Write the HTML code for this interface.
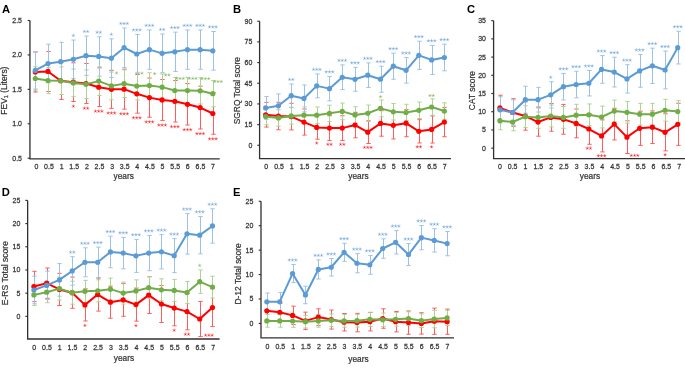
<!DOCTYPE html>
<html><head><meta charset="utf-8"><style>
html,body{margin:0;padding:0;background:#fff;}
body{width:685px;height:368px;overflow:hidden;}
svg{display:block;font-family:"Liberation Sans", sans-serif;will-change:transform;}
text.t{stroke:#333;stroke-width:0.22px;}
</style></head><body>
<svg width="685" height="368" viewBox="0 0 685 368">
<rect width="685" height="368" fill="#fff"/>
<text x="2.1" y="12.8" font-size="11.2" font-weight="bold" fill="#000">A</text>
<path d="M29.95 20.5V158.8H219.7" stroke="#303030" stroke-width="1.3" fill="none"/>
<path d="M27.65 158.2H29.95" stroke="#303030" stroke-width="1.15"/>
<text transform="translate(22,160.65) scale(1,1.14)" font-size="7.0" fill="#333333" class="t" text-anchor="end">0.5</text>
<path d="M27.65 123.77H29.95" stroke="#303030" stroke-width="1.15"/>
<text transform="translate(22,126.22) scale(1,1.14)" font-size="7.0" fill="#333333" class="t" text-anchor="end">1.0</text>
<path d="M27.65 89.35H29.95" stroke="#303030" stroke-width="1.15"/>
<text transform="translate(22,91.8) scale(1,1.14)" font-size="7.0" fill="#333333" class="t" text-anchor="end">1.5</text>
<path d="M27.65 54.92H29.95" stroke="#303030" stroke-width="1.15"/>
<text transform="translate(22,57.38) scale(1,1.14)" font-size="7.0" fill="#333333" class="t" text-anchor="end">2.0</text>
<path d="M27.65 20.5H29.95" stroke="#303030" stroke-width="1.15"/>
<text transform="translate(22,22.95) scale(1,1.14)" font-size="7.0" fill="#333333" class="t" text-anchor="end">2.5</text>
<text transform="translate(36.35,169.1) scale(1,1.14)" font-size="7.0" fill="#333333" class="t" text-anchor="middle">0</text>
<text transform="translate(48.97,169.1) scale(1,1.14)" font-size="7.0" fill="#333333" class="t" text-anchor="middle">0.5</text>
<text transform="translate(61.59,169.1) scale(1,1.14)" font-size="7.0" fill="#333333" class="t" text-anchor="middle">1</text>
<text transform="translate(74.21,169.1) scale(1,1.14)" font-size="7.0" fill="#333333" class="t" text-anchor="middle">1.5</text>
<text transform="translate(86.83,169.1) scale(1,1.14)" font-size="7.0" fill="#333333" class="t" text-anchor="middle">2</text>
<text transform="translate(99.45,169.1) scale(1,1.14)" font-size="7.0" fill="#333333" class="t" text-anchor="middle">2.5</text>
<text transform="translate(112.07,169.1) scale(1,1.14)" font-size="7.0" fill="#333333" class="t" text-anchor="middle">3</text>
<text transform="translate(124.69,169.1) scale(1,1.14)" font-size="7.0" fill="#333333" class="t" text-anchor="middle">3.5</text>
<text transform="translate(137.31,169.1) scale(1,1.14)" font-size="7.0" fill="#333333" class="t" text-anchor="middle">4</text>
<text transform="translate(149.93,169.1) scale(1,1.14)" font-size="7.0" fill="#333333" class="t" text-anchor="middle">4.5</text>
<text transform="translate(162.55,169.1) scale(1,1.14)" font-size="7.0" fill="#333333" class="t" text-anchor="middle">5</text>
<text transform="translate(175.17,169.1) scale(1,1.14)" font-size="7.0" fill="#333333" class="t" text-anchor="middle">5.5</text>
<text transform="translate(187.79,169.1) scale(1,1.14)" font-size="7.0" fill="#333333" class="t" text-anchor="middle">6</text>
<text transform="translate(200.41,169.1) scale(1,1.14)" font-size="7.0" fill="#333333" class="t" text-anchor="middle">6.5</text>
<text transform="translate(213.03,169.1) scale(1,1.14)" font-size="7.0" fill="#333333" class="t" text-anchor="middle">7</text>
<text x="123.7" y="179.25" font-size="8.3" fill="#333333" class="t" text-anchor="middle">years</text>
<text transform="translate(6.8,90.6) rotate(-90)" font-size="8.45" fill="#333333" class="t" text-anchor="middle">FEV<tspan font-size="5.5" dy="1.5">1</tspan><tspan dy="-1.5"> (Liters)</tspan></text>
<path d="M35.5 51.98V92.03M33.3 51.98H37.7M33.3 92.03H37.7M48.5 51.43V91.48M46.3 51.43H50.7M46.3 91.48H50.7M61.5 62.13V99.42M59.3 62.13H63.7M59.3 99.42H63.7M73.5 62.82V101.49M71.3 62.82H75.7M71.3 101.49H75.7M86.5 63.51V103.56M84.3 63.51H88.7M84.3 103.56H88.7M99.5 67.86V106.53M97.3 67.86H101.7M97.3 106.53H101.7M111.5 70.35V108.32M109.3 70.35H113.7M109.3 108.32H113.7M124.5 69.1V109.15M122.3 69.1H126.7M122.3 109.15H126.7M137.5 74.49V113.16M135.3 74.49H139.7M135.3 113.16H139.7M149.5 78.01V117.23M147.3 78.01H151.7M147.3 117.23H151.7M162.5 79.53V120.41M160.3 79.53H164.7M160.3 120.41H164.7M175.5 80.57V122M173.3 80.57H177.7M173.3 122H177.7M187.5 83.6V125.03M185.3 83.6H189.7M185.3 125.03H189.7M200.5 86.16V128.97M198.3 86.16H202.7M198.3 128.97H202.7M213.5 92.79V134.22M211.3 92.79H215.7M211.3 134.22H215.7" stroke="#FF5C5C" stroke-width="1" fill="none"/>
<path d="M35.5 66.76V90.23M33.3 66.76H37.7M33.3 90.23H37.7M48.5 67.38V93.62M46.3 67.38H50.7M46.3 93.62H50.7M61.5 66.89V94.51M59.3 66.89H63.7M59.3 94.51H63.7M73.5 69.1V96.72M71.3 69.1H75.7M71.3 96.72H75.7M86.5 69.93V98.52M84.3 69.93H88.7M84.3 98.52H88.7M99.5 66.83V95.41M97.3 66.83H101.7M97.3 95.41H101.7M111.5 72.07V99.69M109.3 72.07H113.7M109.3 99.69H113.7M124.5 69.86V97.48M122.3 69.86H126.7M122.3 97.48H126.7M137.5 72.28V99.9M135.3 72.28H139.7M135.3 99.9H139.7M149.5 72.76V98.31M147.3 72.76H151.7M147.3 98.31H151.7M162.5 74.01V100.25M160.3 74.01H164.7M160.3 100.25H164.7M175.5 77.46V103.7M173.3 77.46H177.7M173.3 103.7H177.7M187.5 77.46V103.7M185.3 77.46H189.7M185.3 103.7H189.7M200.5 77.74V103.97M198.3 77.74H202.7M198.3 103.97H202.7M213.5 80.57V106.81M211.3 80.57H215.7M211.3 106.81H215.7" stroke="#ADD395" stroke-width="1" fill="none"/>
<path d="M35.5 51.77V89.06M33.3 51.77H37.7M33.3 89.06H37.7M48.5 44.18V82.85M46.3 44.18H50.7M46.3 82.85H50.7M61.5 42.38V81.05M59.3 42.38H63.7M59.3 81.05H63.7M73.5 40.03V78.43M71.3 40.03H75.7M71.3 78.43H75.7M86.5 36.03V75.39M84.3 36.03H88.7M84.3 75.39H88.7M99.5 36.79V76.15M97.3 36.79H101.7M97.3 76.15H101.7M111.5 38.86V77.53M109.3 38.86H113.7M109.3 77.53H113.7M124.5 28.02V67.38M122.3 28.02H126.7M122.3 67.38H126.7M137.5 34.51V73.45M135.3 34.51H139.7M135.3 73.45H139.7M149.5 29.95V69.31M147.3 29.95H151.7M147.3 69.31H151.7M162.5 34.03V72.69M160.3 34.03H164.7M160.3 72.69H164.7M175.5 32.16V71.52M173.3 32.16H177.7M173.3 71.52H177.7M187.5 29.95V69.31M185.3 29.95H189.7M185.3 69.31H189.7M200.5 29.95V69.31M198.3 29.95H202.7M198.3 69.31H202.7M213.5 31.47V70.14M211.3 31.47H215.7M211.3 70.14H215.7" stroke="#9EC2E6" stroke-width="1" fill="none"/>
<polyline points="35.3,72 47.98,71.45 60.66,80.77 73.34,82.15 86.02,83.54 98.7,87.2 111.38,89.34 124.06,89.13 136.74,93.82 149.42,97.62 162.1,99.97 174.78,101.28 187.46,104.32 200.14,107.56 212.82,113.5" stroke="#FF0000" stroke-width="2.0" fill="none" stroke-linejoin="round"/>
<g fill="#FF0000"><circle cx="35.3" cy="72" r="2.6"/><circle cx="47.98" cy="71.45" r="2.6"/><circle cx="60.66" cy="80.77" r="2.6"/><circle cx="73.34" cy="82.15" r="2.6"/><circle cx="86.02" cy="83.54" r="2.6"/><circle cx="98.7" cy="87.2" r="2.6"/><circle cx="111.38" cy="89.34" r="2.6"/><circle cx="124.06" cy="89.13" r="2.6"/><circle cx="136.74" cy="93.82" r="2.6"/><circle cx="149.42" cy="97.62" r="2.6"/><circle cx="162.1" cy="99.97" r="2.6"/><circle cx="174.78" cy="101.28" r="2.6"/><circle cx="187.46" cy="104.32" r="2.6"/><circle cx="200.14" cy="107.56" r="2.6"/><circle cx="212.82" cy="113.5" r="2.6"/></g>
<polyline points="35.3,78.49 47.98,80.5 60.66,80.7 73.34,82.91 86.02,84.23 98.7,81.12 111.38,85.88 124.06,83.67 136.74,86.09 149.42,85.54 162.1,87.13 174.78,90.58 187.46,90.58 200.14,90.85 212.82,93.69" stroke="#70AD47" stroke-width="2.0" fill="none" stroke-linejoin="round"/>
<g fill="#70AD47"><circle cx="35.3" cy="78.49" r="2.6"/><circle cx="47.98" cy="80.5" r="2.6"/><circle cx="60.66" cy="80.7" r="2.6"/><circle cx="73.34" cy="82.91" r="2.6"/><circle cx="86.02" cy="84.23" r="2.6"/><circle cx="98.7" cy="81.12" r="2.6"/><circle cx="111.38" cy="85.88" r="2.6"/><circle cx="124.06" cy="83.67" r="2.6"/><circle cx="136.74" cy="86.09" r="2.6"/><circle cx="149.42" cy="85.54" r="2.6"/><circle cx="162.1" cy="87.13" r="2.6"/><circle cx="174.78" cy="90.58" r="2.6"/><circle cx="187.46" cy="90.58" r="2.6"/><circle cx="200.14" cy="90.85" r="2.6"/><circle cx="212.82" cy="93.69" r="2.6"/></g>
<polyline points="35.3,70.42 47.98,63.51 60.66,61.72 73.34,59.23 86.02,55.71 98.7,56.47 111.38,58.19 124.06,47.7 136.74,53.98 149.42,49.63 162.1,53.36 174.78,51.84 187.46,49.63 200.14,49.63 212.82,50.81" stroke="#5B9BD5" stroke-width="2.0" fill="none" stroke-linejoin="round"/>
<g fill="#5B9BD5"><circle cx="35.3" cy="70.42" r="2.6"/><circle cx="47.98" cy="63.51" r="2.6"/><circle cx="60.66" cy="61.72" r="2.6"/><circle cx="73.34" cy="59.23" r="2.6"/><circle cx="86.02" cy="55.71" r="2.6"/><circle cx="98.7" cy="56.47" r="2.6"/><circle cx="111.38" cy="58.19" r="2.6"/><circle cx="124.06" cy="47.7" r="2.6"/><circle cx="136.74" cy="53.98" r="2.6"/><circle cx="149.42" cy="49.63" r="2.6"/><circle cx="162.1" cy="53.36" r="2.6"/><circle cx="174.78" cy="51.84" r="2.6"/><circle cx="187.46" cy="49.63" r="2.6"/><circle cx="200.14" cy="49.63" r="2.6"/><circle cx="212.82" cy="50.81" r="2.6"/></g>
<path d="M73.34 35.53L73.34 34.13M73.34 35.53L74.67 35.1M73.34 35.53L74.16 36.67M73.34 35.53L72.52 36.67M73.34 35.53L72.01 35.1" stroke="#5B9BD5" stroke-width="0.55" fill="none" stroke-linecap="round" opacity="0.8"/>
<path d="M84.39 31.53L84.39 30.13M84.39 31.53L85.73 31.1M84.39 31.53L85.22 32.66M84.39 31.53L83.57 32.66M84.39 31.53L83.06 31.1M87.64 31.53L87.64 30.13M87.64 31.53L88.98 31.1M87.64 31.53L88.47 32.66M87.64 31.53L86.82 32.66M87.64 31.53L86.31 31.1" stroke="#5B9BD5" stroke-width="0.55" fill="none" stroke-linecap="round" opacity="0.8"/>
<path d="M97.07 32.29L97.07 30.89M97.07 32.29L98.41 31.86M97.07 32.29L97.9 33.42M97.07 32.29L96.25 33.42M97.07 32.29L95.74 31.86M100.32 32.29L100.32 30.89M100.32 32.29L101.66 31.86M100.32 32.29L101.15 33.42M100.32 32.29L99.5 33.42M100.32 32.29L98.99 31.86" stroke="#5B9BD5" stroke-width="0.55" fill="none" stroke-linecap="round" opacity="0.8"/>
<path d="M111.38 34.36L111.38 32.96M111.38 34.36L112.71 33.93M111.38 34.36L112.2 35.49M111.38 34.36L110.56 35.49M111.38 34.36L110.05 33.93" stroke="#5B9BD5" stroke-width="0.55" fill="none" stroke-linecap="round" opacity="0.8"/>
<path d="M120.81 23.52L120.81 22.12M120.81 23.52L122.14 23.09M120.81 23.52L121.63 24.65M120.81 23.52L119.99 24.65M120.81 23.52L119.48 23.09M124.06 23.52L124.06 22.12M124.06 23.52L125.39 23.09M124.06 23.52L124.88 24.65M124.06 23.52L123.24 24.65M124.06 23.52L122.73 23.09M127.31 23.52L127.31 22.12M127.31 23.52L128.64 23.09M127.31 23.52L128.13 24.65M127.31 23.52L126.49 24.65M127.31 23.52L125.98 23.09" stroke="#5B9BD5" stroke-width="0.55" fill="none" stroke-linecap="round" opacity="0.8"/>
<path d="M133.49 30.01L133.49 28.61M133.49 30.01L134.82 29.58M133.49 30.01L134.31 31.14M133.49 30.01L132.67 31.14M133.49 30.01L132.16 29.58M136.74 30.01L136.74 28.61M136.74 30.01L138.07 29.58M136.74 30.01L137.56 31.14M136.74 30.01L135.92 31.14M136.74 30.01L135.41 29.58M139.99 30.01L139.99 28.61M139.99 30.01L141.32 29.58M139.99 30.01L140.81 31.14M139.99 30.01L139.17 31.14M139.99 30.01L138.66 29.58" stroke="#5B9BD5" stroke-width="0.55" fill="none" stroke-linecap="round" opacity="0.8"/>
<path d="M146.17 25.45L146.17 24.05M146.17 25.45L147.5 25.02M146.17 25.45L146.99 26.59M146.17 25.45L145.35 26.59M146.17 25.45L144.84 25.02M149.42 25.45L149.42 24.05M149.42 25.45L150.75 25.02M149.42 25.45L150.24 26.59M149.42 25.45L148.6 26.59M149.42 25.45L148.09 25.02M152.67 25.45L152.67 24.05M152.67 25.45L154 25.02M152.67 25.45L153.49 26.59M152.67 25.45L151.85 26.59M152.67 25.45L151.34 25.02" stroke="#5B9BD5" stroke-width="0.55" fill="none" stroke-linecap="round" opacity="0.8"/>
<path d="M160.47 29.53L160.47 28.13M160.47 29.53L161.81 29.09M160.47 29.53L161.3 30.66M160.47 29.53L159.65 30.66M160.47 29.53L159.14 29.09M163.72 29.53L163.72 28.13M163.72 29.53L165.06 29.09M163.72 29.53L164.55 30.66M163.72 29.53L162.9 30.66M163.72 29.53L162.39 29.09" stroke="#5B9BD5" stroke-width="0.55" fill="none" stroke-linecap="round" opacity="0.8"/>
<path d="M171.53 27.66L171.53 26.26M171.53 27.66L172.86 27.23M171.53 27.66L172.35 28.79M171.53 27.66L170.71 28.79M171.53 27.66L170.2 27.23M174.78 27.66L174.78 26.26M174.78 27.66L176.11 27.23M174.78 27.66L175.6 28.79M174.78 27.66L173.96 28.79M174.78 27.66L173.45 27.23M178.03 27.66L178.03 26.26M178.03 27.66L179.36 27.23M178.03 27.66L178.85 28.79M178.03 27.66L177.21 28.79M178.03 27.66L176.7 27.23" stroke="#5B9BD5" stroke-width="0.55" fill="none" stroke-linecap="round" opacity="0.8"/>
<path d="M184.21 25.45L184.21 24.05M184.21 25.45L185.54 25.02M184.21 25.45L185.03 26.59M184.21 25.45L183.39 26.59M184.21 25.45L182.88 25.02M187.46 25.45L187.46 24.05M187.46 25.45L188.79 25.02M187.46 25.45L188.28 26.59M187.46 25.45L186.64 26.59M187.46 25.45L186.13 25.02M190.71 25.45L190.71 24.05M190.71 25.45L192.04 25.02M190.71 25.45L191.53 26.59M190.71 25.45L189.89 26.59M190.71 25.45L189.38 25.02" stroke="#5B9BD5" stroke-width="0.55" fill="none" stroke-linecap="round" opacity="0.8"/>
<path d="M196.89 25.45L196.89 24.05M196.89 25.45L198.22 25.02M196.89 25.45L197.71 26.59M196.89 25.45L196.07 26.59M196.89 25.45L195.56 25.02M200.14 25.45L200.14 24.05M200.14 25.45L201.47 25.02M200.14 25.45L200.96 26.59M200.14 25.45L199.32 26.59M200.14 25.45L198.81 25.02M203.39 25.45L203.39 24.05M203.39 25.45L204.72 25.02M203.39 25.45L204.21 26.59M203.39 25.45L202.57 26.59M203.39 25.45L202.06 25.02" stroke="#5B9BD5" stroke-width="0.55" fill="none" stroke-linecap="round" opacity="0.8"/>
<path d="M209.57 26.97L209.57 25.57M209.57 26.97L210.9 26.54M209.57 26.97L210.39 28.1M209.57 26.97L208.75 28.1M209.57 26.97L208.24 26.54M212.82 26.97L212.82 25.57M212.82 26.97L214.15 26.54M212.82 26.97L213.64 28.1M212.82 26.97L212 28.1M212.82 26.97L211.49 26.54M216.07 26.97L216.07 25.57M216.07 26.97L217.4 26.54M216.07 26.97L216.89 28.1M216.07 26.97L215.25 28.1M216.07 26.97L214.74 26.54" stroke="#5B9BD5" stroke-width="0.55" fill="none" stroke-linecap="round" opacity="0.8"/>
<path d="M116.58 73.07L116.58 71.67M116.58 73.07L117.91 72.64M116.58 73.07L117.4 74.21M116.58 73.07L115.76 74.21M116.58 73.07L115.25 72.64" stroke="#70AD47" stroke-width="0.55" fill="none" stroke-linecap="round" opacity="0.8"/>
<path d="M141.94 73.28L141.94 71.88M141.94 73.28L143.27 72.85M141.94 73.28L142.76 74.41M141.94 73.28L141.12 74.41M141.94 73.28L140.61 72.85" stroke="#70AD47" stroke-width="0.55" fill="none" stroke-linecap="round" opacity="0.8"/>
<path d="M154.62 73.76L154.62 72.36M154.62 73.76L155.95 73.33M154.62 73.76L155.44 74.9M154.62 73.76L153.8 74.9M154.62 73.76L153.29 73.33" stroke="#70AD47" stroke-width="0.55" fill="none" stroke-linecap="round" opacity="0.8"/>
<path d="M165.67 75.01L165.67 73.61M165.67 75.01L167.01 74.57M165.67 75.01L166.5 76.14M165.67 75.01L164.85 76.14M165.67 75.01L164.34 74.57M168.92 75.01L168.92 73.61M168.92 75.01L170.26 74.57M168.92 75.01L169.75 76.14M168.92 75.01L168.1 76.14M168.92 75.01L167.59 74.57" stroke="#70AD47" stroke-width="0.55" fill="none" stroke-linecap="round" opacity="0.8"/>
<path d="M176.73 78.46L176.73 77.06M176.73 78.46L178.06 78.03M176.73 78.46L177.55 79.59M176.73 78.46L175.91 79.59M176.73 78.46L175.4 78.03M179.98 78.46L179.98 77.06M179.98 78.46L181.31 78.03M179.98 78.46L180.8 79.59M179.98 78.46L179.16 79.59M179.98 78.46L178.65 78.03M183.23 78.46L183.23 77.06M183.23 78.46L184.56 78.03M183.23 78.46L184.05 79.59M183.23 78.46L182.41 79.59M183.23 78.46L181.9 78.03" stroke="#70AD47" stroke-width="0.55" fill="none" stroke-linecap="round" opacity="0.8"/>
<path d="M189.41 78.46L189.41 77.06M189.41 78.46L190.74 78.03M189.41 78.46L190.23 79.59M189.41 78.46L188.59 79.59M189.41 78.46L188.08 78.03M192.66 78.46L192.66 77.06M192.66 78.46L193.99 78.03M192.66 78.46L193.48 79.59M192.66 78.46L191.84 79.59M192.66 78.46L191.33 78.03M195.91 78.46L195.91 77.06M195.91 78.46L197.24 78.03M195.91 78.46L196.73 79.59M195.91 78.46L195.09 79.59M195.91 78.46L194.58 78.03" stroke="#70AD47" stroke-width="0.55" fill="none" stroke-linecap="round" opacity="0.8"/>
<path d="M202.09 78.74L202.09 77.34M202.09 78.74L203.42 78.3M202.09 78.74L202.91 79.87M202.09 78.74L201.27 79.87M202.09 78.74L200.76 78.3M205.34 78.74L205.34 77.34M205.34 78.74L206.67 78.3M205.34 78.74L206.16 79.87M205.34 78.74L204.52 79.87M205.34 78.74L204.01 78.3M208.59 78.74L208.59 77.34M208.59 78.74L209.92 78.3M208.59 78.74L209.41 79.87M208.59 78.74L207.77 79.87M208.59 78.74L207.26 78.3" stroke="#70AD47" stroke-width="0.55" fill="none" stroke-linecap="round" opacity="0.8"/>
<path d="M214.77 81.57L214.77 80.17M214.77 81.57L216.1 81.13M214.77 81.57L215.59 82.7M214.77 81.57L213.95 82.7M214.77 81.57L213.44 81.13M218.02 81.57L218.02 80.17M218.02 81.57L219.35 81.13M218.02 81.57L218.84 82.7M218.02 81.57L217.2 82.7M218.02 81.57L216.69 81.13M221.27 81.57L221.27 80.17M221.27 81.57L222.6 81.13M221.27 81.57L222.09 82.7M221.27 81.57L220.45 82.7M221.27 81.57L219.94 81.13" stroke="#70AD47" stroke-width="0.55" fill="none" stroke-linecap="round" opacity="0.8"/>
<path d="M73.34 106.19L73.34 104.79M73.34 106.19L74.67 105.76M73.34 106.19L74.16 107.32M73.34 106.19L72.52 107.32M73.34 106.19L72.01 105.76" stroke="#FF0000" stroke-width="0.55" fill="none" stroke-linecap="round" opacity="0.8"/>
<path d="M84.39 108.26L84.39 106.86M84.39 108.26L85.73 107.83M84.39 108.26L85.22 109.39M84.39 108.26L83.57 109.39M84.39 108.26L83.06 107.83M87.64 108.26L87.64 106.86M87.64 108.26L88.98 107.83M87.64 108.26L88.47 109.39M87.64 108.26L86.82 109.39M87.64 108.26L86.31 107.83" stroke="#FF0000" stroke-width="0.55" fill="none" stroke-linecap="round" opacity="0.8"/>
<path d="M95.45 111.23L95.45 109.83M95.45 111.23L96.78 110.8M95.45 111.23L96.27 112.36M95.45 111.23L94.63 112.36M95.45 111.23L94.12 110.8M98.7 111.23L98.7 109.83M98.7 111.23L100.03 110.8M98.7 111.23L99.52 112.36M98.7 111.23L97.88 112.36M98.7 111.23L97.37 110.8M101.95 111.23L101.95 109.83M101.95 111.23L103.28 110.8M101.95 111.23L102.77 112.36M101.95 111.23L101.13 112.36M101.95 111.23L100.62 110.8" stroke="#FF0000" stroke-width="0.55" fill="none" stroke-linecap="round" opacity="0.8"/>
<path d="M108.13 113.02L108.13 111.62M108.13 113.02L109.46 112.59M108.13 113.02L108.95 114.16M108.13 113.02L107.31 114.16M108.13 113.02L106.8 112.59M111.38 113.02L111.38 111.62M111.38 113.02L112.71 112.59M111.38 113.02L112.2 114.16M111.38 113.02L110.56 114.16M111.38 113.02L110.05 112.59M114.63 113.02L114.63 111.62M114.63 113.02L115.96 112.59M114.63 113.02L115.45 114.16M114.63 113.02L113.81 114.16M114.63 113.02L113.3 112.59" stroke="#FF0000" stroke-width="0.55" fill="none" stroke-linecap="round" opacity="0.8"/>
<path d="M120.81 113.85L120.81 112.45M120.81 113.85L122.14 113.42M120.81 113.85L121.63 114.99M120.81 113.85L119.99 114.99M120.81 113.85L119.48 113.42M124.06 113.85L124.06 112.45M124.06 113.85L125.39 113.42M124.06 113.85L124.88 114.99M124.06 113.85L123.24 114.99M124.06 113.85L122.73 113.42M127.31 113.85L127.31 112.45M127.31 113.85L128.64 113.42M127.31 113.85L128.13 114.99M127.31 113.85L126.49 114.99M127.31 113.85L125.98 113.42" stroke="#FF0000" stroke-width="0.55" fill="none" stroke-linecap="round" opacity="0.8"/>
<path d="M133.49 117.86L133.49 116.46M133.49 117.86L134.82 117.43M133.49 117.86L134.31 118.99M133.49 117.86L132.67 118.99M133.49 117.86L132.16 117.43M136.74 117.86L136.74 116.46M136.74 117.86L138.07 117.43M136.74 117.86L137.56 118.99M136.74 117.86L135.92 118.99M136.74 117.86L135.41 117.43M139.99 117.86L139.99 116.46M139.99 117.86L141.32 117.43M139.99 117.86L140.81 118.99M139.99 117.86L139.17 118.99M139.99 117.86L138.66 117.43" stroke="#FF0000" stroke-width="0.55" fill="none" stroke-linecap="round" opacity="0.8"/>
<path d="M146.17 121.93L146.17 120.53M146.17 121.93L147.5 121.5M146.17 121.93L146.99 123.06M146.17 121.93L145.35 123.06M146.17 121.93L144.84 121.5M149.42 121.93L149.42 120.53M149.42 121.93L150.75 121.5M149.42 121.93L150.24 123.06M149.42 121.93L148.6 123.06M149.42 121.93L148.09 121.5M152.67 121.93L152.67 120.53M152.67 121.93L154 121.5M152.67 121.93L153.49 123.06M152.67 121.93L151.85 123.06M152.67 121.93L151.34 121.5" stroke="#FF0000" stroke-width="0.55" fill="none" stroke-linecap="round" opacity="0.8"/>
<path d="M158.85 125.11L158.85 123.71M158.85 125.11L160.18 124.68M158.85 125.11L159.67 126.24M158.85 125.11L158.03 126.24M158.85 125.11L157.52 124.68M162.1 125.11L162.1 123.71M162.1 125.11L163.43 124.68M162.1 125.11L162.92 126.24M162.1 125.11L161.28 126.24M162.1 125.11L160.77 124.68M165.35 125.11L165.35 123.71M165.35 125.11L166.68 124.68M165.35 125.11L166.17 126.24M165.35 125.11L164.53 126.24M165.35 125.11L164.02 124.68" stroke="#FF0000" stroke-width="0.55" fill="none" stroke-linecap="round" opacity="0.8"/>
<path d="M171.53 126.7L171.53 125.3M171.53 126.7L172.86 126.26M171.53 126.7L172.35 127.83M171.53 126.7L170.71 127.83M171.53 126.7L170.2 126.26M174.78 126.7L174.78 125.3M174.78 126.7L176.11 126.26M174.78 126.7L175.6 127.83M174.78 126.7L173.96 127.83M174.78 126.7L173.45 126.26M178.03 126.7L178.03 125.3M178.03 126.7L179.36 126.26M178.03 126.7L178.85 127.83M178.03 126.7L177.21 127.83M178.03 126.7L176.7 126.26" stroke="#FF0000" stroke-width="0.55" fill="none" stroke-linecap="round" opacity="0.8"/>
<path d="M184.21 129.73L184.21 128.33M184.21 129.73L185.54 129.3M184.21 129.73L185.03 130.87M184.21 129.73L183.39 130.87M184.21 129.73L182.88 129.3M187.46 129.73L187.46 128.33M187.46 129.73L188.79 129.3M187.46 129.73L188.28 130.87M187.46 129.73L186.64 130.87M187.46 129.73L186.13 129.3M190.71 129.73L190.71 128.33M190.71 129.73L192.04 129.3M190.71 129.73L191.53 130.87M190.71 129.73L189.89 130.87M190.71 129.73L189.38 129.3" stroke="#FF0000" stroke-width="0.55" fill="none" stroke-linecap="round" opacity="0.8"/>
<path d="M196.89 133.67L196.89 132.27M196.89 133.67L198.22 133.24M196.89 133.67L197.71 134.8M196.89 133.67L196.07 134.8M196.89 133.67L195.56 133.24M200.14 133.67L200.14 132.27M200.14 133.67L201.47 133.24M200.14 133.67L200.96 134.8M200.14 133.67L199.32 134.8M200.14 133.67L198.81 133.24M203.39 133.67L203.39 132.27M203.39 133.67L204.72 133.24M203.39 133.67L204.21 134.8M203.39 133.67L202.57 134.8M203.39 133.67L202.06 133.24" stroke="#FF0000" stroke-width="0.55" fill="none" stroke-linecap="round" opacity="0.8"/>
<path d="M209.57 138.92L209.57 137.52M209.57 138.92L210.9 138.49M209.57 138.92L210.39 140.05M209.57 138.92L208.75 140.05M209.57 138.92L208.24 138.49M212.82 138.92L212.82 137.52M212.82 138.92L214.15 138.49M212.82 138.92L213.64 140.05M212.82 138.92L212 140.05M212.82 138.92L211.49 138.49M216.07 138.92L216.07 137.52M216.07 138.92L217.4 138.49M216.07 138.92L216.89 140.05M216.07 138.92L215.25 140.05M216.07 138.92L214.74 138.49" stroke="#FF0000" stroke-width="0.55" fill="none" stroke-linecap="round" opacity="0.8"/>
<text x="233" y="12.8" font-size="11.2" font-weight="bold" fill="#000">B</text>
<path d="M259.6 21.2V158.7H451" stroke="#303030" stroke-width="1.3" fill="none"/>
<path d="M257.3 145.3H259.6" stroke="#303030" stroke-width="1.15"/>
<text transform="translate(252.3,147.75) scale(1,1.14)" font-size="7.0" fill="#333333" class="t" text-anchor="end">0</text>
<path d="M257.3 124.62H259.6" stroke="#303030" stroke-width="1.15"/>
<text transform="translate(252.3,127.07) scale(1,1.14)" font-size="7.0" fill="#333333" class="t" text-anchor="end">15</text>
<path d="M257.3 103.93H259.6" stroke="#303030" stroke-width="1.15"/>
<text transform="translate(252.3,106.38) scale(1,1.14)" font-size="7.0" fill="#333333" class="t" text-anchor="end">30</text>
<path d="M257.3 83.25H259.6" stroke="#303030" stroke-width="1.15"/>
<text transform="translate(252.3,85.7) scale(1,1.14)" font-size="7.0" fill="#333333" class="t" text-anchor="end">45</text>
<path d="M257.3 62.57H259.6" stroke="#303030" stroke-width="1.15"/>
<text transform="translate(252.3,65.02) scale(1,1.14)" font-size="7.0" fill="#333333" class="t" text-anchor="end">60</text>
<path d="M257.3 41.88H259.6" stroke="#303030" stroke-width="1.15"/>
<text transform="translate(252.3,44.33) scale(1,1.14)" font-size="7.0" fill="#333333" class="t" text-anchor="end">75</text>
<path d="M257.3 21.2H259.6" stroke="#303030" stroke-width="1.15"/>
<text transform="translate(252.3,23.65) scale(1,1.14)" font-size="7.0" fill="#333333" class="t" text-anchor="end">90</text>
<text transform="translate(266.3,169.2) scale(1,1.14)" font-size="7.0" fill="#333333" class="t" text-anchor="middle">0</text>
<text transform="translate(279.05,169.2) scale(1,1.14)" font-size="7.0" fill="#333333" class="t" text-anchor="middle">0.5</text>
<text transform="translate(291.8,169.2) scale(1,1.14)" font-size="7.0" fill="#333333" class="t" text-anchor="middle">1</text>
<text transform="translate(304.55,169.2) scale(1,1.14)" font-size="7.0" fill="#333333" class="t" text-anchor="middle">1.5</text>
<text transform="translate(317.3,169.2) scale(1,1.14)" font-size="7.0" fill="#333333" class="t" text-anchor="middle">2</text>
<text transform="translate(330.05,169.2) scale(1,1.14)" font-size="7.0" fill="#333333" class="t" text-anchor="middle">2.5</text>
<text transform="translate(342.8,169.2) scale(1,1.14)" font-size="7.0" fill="#333333" class="t" text-anchor="middle">3</text>
<text transform="translate(355.55,169.2) scale(1,1.14)" font-size="7.0" fill="#333333" class="t" text-anchor="middle">3.5</text>
<text transform="translate(368.3,169.2) scale(1,1.14)" font-size="7.0" fill="#333333" class="t" text-anchor="middle">4</text>
<text transform="translate(381.05,169.2) scale(1,1.14)" font-size="7.0" fill="#333333" class="t" text-anchor="middle">4.5</text>
<text transform="translate(393.8,169.2) scale(1,1.14)" font-size="7.0" fill="#333333" class="t" text-anchor="middle">5</text>
<text transform="translate(406.55,169.2) scale(1,1.14)" font-size="7.0" fill="#333333" class="t" text-anchor="middle">5.5</text>
<text transform="translate(419.3,169.2) scale(1,1.14)" font-size="7.0" fill="#333333" class="t" text-anchor="middle">6</text>
<text transform="translate(432.05,169.2) scale(1,1.14)" font-size="7.0" fill="#333333" class="t" text-anchor="middle">6.5</text>
<text transform="translate(444.8,169.2) scale(1,1.14)" font-size="7.0" fill="#333333" class="t" text-anchor="middle">7</text>
<text x="358.45" y="179.35" font-size="8.3" fill="#333333" class="t" text-anchor="middle">years</text>
<text transform="translate(239.5,90.65) rotate(-90)" font-size="8.35" fill="#333333" class="t" text-anchor="middle">SGRQ Total score</text>
<path d="M266.5 102.4V127.07M264.3 102.4H268.7M264.3 127.07H268.7M278.5 102.34V129.75M276.3 102.34H280.7M276.3 129.75H280.7M291.5 103.29V129.88M289.3 103.29H293.7M289.3 129.88H293.7M304.5 109.05V135.09M302.3 109.05H306.7M302.3 135.09H306.7M317.5 115.63V139.2M315.3 115.63H319.7M315.3 139.2H319.7M329.5 115.77V140.44M327.3 115.77H331.7M327.3 140.44H331.7M342.5 115.77V140.44M340.3 115.77H344.7M340.3 140.44H344.7M355.5 112.34V137.83M353.3 112.34H357.7M353.3 137.83H357.7M368.5 120.77V143.52M366.3 120.77H370.7M366.3 143.52H370.7M381.5 110.7V136.19M379.3 110.7H383.7M379.3 136.19H383.7M393.5 111.79V138.93M391.3 111.79H395.7M391.3 138.93H395.7M406.5 109.6V136.73M404.3 109.6H408.7M404.3 136.73H408.7M419.5 119.69V142.98M417.3 119.69H421.7M417.3 142.98H421.7M432.5 115.9V143.04M430.3 115.9H434.7M430.3 143.04H434.7M444.5 107.41V136.73M442.3 107.41H446.7M442.3 136.73H446.7" stroke="#FF5C5C" stroke-width="1" fill="none"/>
<path d="M266.5 108.37V124.81M264.3 108.37H268.7M264.3 124.81H268.7M278.5 109.74V126.18M276.3 109.74H280.7M276.3 126.18H280.7M291.5 107.68V124.13M289.3 107.68H293.7M289.3 124.13H293.7M304.5 107V123.44M302.3 107H306.7M302.3 123.44H306.7M317.5 107V123.44M315.3 107H319.7M315.3 123.44H319.7M329.5 105.21V121.39M327.3 105.21H331.7M327.3 121.39H331.7M342.5 103.02V119.74M340.3 103.02H344.7M340.3 119.74H344.7M355.5 106.72V123.17M353.3 106.72H357.7M353.3 123.17H357.7M368.5 105.01V121.45M366.3 105.01H370.7M366.3 121.45H370.7M381.5 100.01V116.73M379.3 100.01H383.7M379.3 116.73H383.7M393.5 103.57V120.01M391.3 103.57H395.7M391.3 120.01H395.7M406.5 104.25V120.7M404.3 104.25H408.7M404.3 120.7H408.7M419.5 102.06V118.51M417.3 102.06H421.7M417.3 118.51H421.7M432.5 98.77V115.22M430.3 98.77H434.7M430.3 115.22H434.7M444.5 102.82V119.26M442.3 102.82H446.7M442.3 119.26H446.7" stroke="#ADD395" stroke-width="1" fill="none"/>
<path d="M266.5 96.58V119.33M264.3 96.58H268.7M264.3 119.33H268.7M278.5 93.98V117.55M276.3 93.98H280.7M276.3 117.55H280.7M291.5 84.03V107.32M289.3 84.03H293.7M289.3 107.32H293.7M304.5 85V111.86M302.3 85H306.7M302.3 111.86H306.7M317.5 73.97V97.81M315.3 73.97H319.7M315.3 97.81H319.7M329.5 76.43V100.83M327.3 76.43H331.7M327.3 100.83H331.7M342.5 64.92V89.59M340.3 64.92H344.7M340.3 89.59H344.7M355.5 67.39V91.23M353.3 67.39H357.7M353.3 91.23H357.7M368.5 62.87V87.53M366.3 62.87H370.7M366.3 87.53H370.7M381.5 66.2V92.23M379.3 66.2H383.7M379.3 92.23H383.7M393.5 53.2V79.24M391.3 53.2H395.7M391.3 79.24H395.7M406.5 57.57V83.07M404.3 57.57H408.7M404.3 83.07H408.7M419.5 41.21V69.44M417.3 41.21H421.7M417.3 69.44H421.7M432.5 45.39V74.45M430.3 45.39H434.7M430.3 74.45H434.7M444.5 44.23V70.81M442.3 44.23H446.7M442.3 70.81H446.7" stroke="#9EC2E6" stroke-width="1" fill="none"/>
<polyline points="265.65,114.74 278.41,116.04 291.18,116.59 303.94,122.07 316.71,127.42 329.47,128.1 342.24,128.1 355,125.09 367.77,132.14 380.53,123.44 393.3,125.36 406.06,123.17 418.83,131.34 431.59,129.47 444.36,122.07" stroke="#FF0000" stroke-width="2.0" fill="none" stroke-linejoin="round"/>
<g fill="#FF0000"><circle cx="265.65" cy="114.74" r="2.6"/><circle cx="278.41" cy="116.04" r="2.6"/><circle cx="291.18" cy="116.59" r="2.6"/><circle cx="303.94" cy="122.07" r="2.6"/><circle cx="316.71" cy="127.42" r="2.6"/><circle cx="329.47" cy="128.1" r="2.6"/><circle cx="342.24" cy="128.1" r="2.6"/><circle cx="355" cy="125.09" r="2.6"/><circle cx="367.77" cy="132.14" r="2.6"/><circle cx="380.53" cy="123.44" r="2.6"/><circle cx="393.3" cy="125.36" r="2.6"/><circle cx="406.06" cy="123.17" r="2.6"/><circle cx="418.83" cy="131.34" r="2.6"/><circle cx="431.59" cy="129.47" r="2.6"/><circle cx="444.36" cy="122.07" r="2.6"/></g>
<polyline points="265.65,116.59 278.41,117.96 291.18,115.9 303.94,115.22 316.71,115.22 329.47,113.3 342.24,111.38 355,114.94 367.77,113.23 380.53,108.37 393.3,111.79 406.06,112.48 418.83,110.28 431.59,107 444.36,111.04" stroke="#70AD47" stroke-width="2.0" fill="none" stroke-linejoin="round"/>
<g fill="#70AD47"><circle cx="265.65" cy="116.59" r="2.6"/><circle cx="278.41" cy="117.96" r="2.6"/><circle cx="291.18" cy="115.9" r="2.6"/><circle cx="303.94" cy="115.22" r="2.6"/><circle cx="316.71" cy="115.22" r="2.6"/><circle cx="329.47" cy="113.3" r="2.6"/><circle cx="342.24" cy="111.38" r="2.6"/><circle cx="355" cy="114.94" r="2.6"/><circle cx="367.77" cy="113.23" r="2.6"/><circle cx="380.53" cy="108.37" r="2.6"/><circle cx="393.3" cy="111.79" r="2.6"/><circle cx="406.06" cy="112.48" r="2.6"/><circle cx="418.83" cy="110.28" r="2.6"/><circle cx="431.59" cy="107" r="2.6"/><circle cx="444.36" cy="111.04" r="2.6"/></g>
<polyline points="265.65,107.95 278.41,105.76 291.18,95.67 303.94,98.43 316.71,85.89 329.47,88.63 342.24,77.26 355,79.31 367.77,75.2 380.53,79.22 393.3,66.22 406.06,70.32 418.83,55.33 431.59,59.92 444.36,57.52" stroke="#5B9BD5" stroke-width="2.0" fill="none" stroke-linejoin="round"/>
<g fill="#5B9BD5"><circle cx="265.65" cy="107.95" r="2.6"/><circle cx="278.41" cy="105.76" r="2.6"/><circle cx="291.18" cy="95.67" r="2.6"/><circle cx="303.94" cy="98.43" r="2.6"/><circle cx="316.71" cy="85.89" r="2.6"/><circle cx="329.47" cy="88.63" r="2.6"/><circle cx="342.24" cy="77.26" r="2.6"/><circle cx="355" cy="79.31" r="2.6"/><circle cx="367.77" cy="75.2" r="2.6"/><circle cx="380.53" cy="79.22" r="2.6"/><circle cx="393.3" cy="66.22" r="2.6"/><circle cx="406.06" cy="70.32" r="2.6"/><circle cx="418.83" cy="55.33" r="2.6"/><circle cx="431.59" cy="59.92" r="2.6"/><circle cx="444.36" cy="57.52" r="2.6"/></g>
<path d="M289.55 79.53L289.55 78.13M289.55 79.53L290.89 79.09M289.55 79.53L290.38 80.66M289.55 79.53L288.73 80.66M289.55 79.53L288.22 79.09M292.8 79.53L292.8 78.13M292.8 79.53L294.14 79.09M292.8 79.53L293.63 80.66M292.8 79.53L291.98 80.66M292.8 79.53L291.47 79.09" stroke="#5B9BD5" stroke-width="0.55" fill="none" stroke-linecap="round" opacity="0.8"/>
<path d="M313.46 69.47L313.46 68.07M313.46 69.47L314.79 69.03M313.46 69.47L314.28 70.6M313.46 69.47L312.64 70.6M313.46 69.47L312.13 69.03M316.71 69.47L316.71 68.07M316.71 69.47L318.04 69.03M316.71 69.47L317.53 70.6M316.71 69.47L315.89 70.6M316.71 69.47L315.38 69.03M319.96 69.47L319.96 68.07M319.96 69.47L321.29 69.03M319.96 69.47L320.78 70.6M319.96 69.47L319.14 70.6M319.96 69.47L318.63 69.03" stroke="#5B9BD5" stroke-width="0.55" fill="none" stroke-linecap="round" opacity="0.8"/>
<path d="M326.22 71.93L326.22 70.53M326.22 71.93L327.56 71.5M326.22 71.93L327.05 73.07M326.22 71.93L325.4 73.07M326.22 71.93L324.89 71.5M329.47 71.93L329.47 70.53M329.47 71.93L330.81 71.5M329.47 71.93L330.3 73.07M329.47 71.93L328.65 73.07M329.47 71.93L328.14 71.5M332.72 71.93L332.72 70.53M332.72 71.93L334.06 71.5M332.72 71.93L333.55 73.07M332.72 71.93L331.9 73.07M332.72 71.93L331.39 71.5" stroke="#5B9BD5" stroke-width="0.55" fill="none" stroke-linecap="round" opacity="0.8"/>
<path d="M338.99 60.42L338.99 59.02M338.99 60.42L340.32 59.99M338.99 60.42L339.81 61.55M338.99 60.42L338.17 61.55M338.99 60.42L337.66 59.99M342.24 60.42L342.24 59.02M342.24 60.42L343.57 59.99M342.24 60.42L343.06 61.55M342.24 60.42L341.42 61.55M342.24 60.42L340.91 59.99M345.49 60.42L345.49 59.02M345.49 60.42L346.82 59.99M345.49 60.42L346.31 61.55M345.49 60.42L344.67 61.55M345.49 60.42L344.16 59.99" stroke="#5B9BD5" stroke-width="0.55" fill="none" stroke-linecap="round" opacity="0.8"/>
<path d="M351.75 62.89L351.75 61.49M351.75 62.89L353.09 62.46M351.75 62.89L352.58 64.02M351.75 62.89L350.93 64.02M351.75 62.89L350.42 62.46M355 62.89L355 61.49M355 62.89L356.34 62.46M355 62.89L355.83 64.02M355 62.89L354.18 64.02M355 62.89L353.67 62.46M358.25 62.89L358.25 61.49M358.25 62.89L359.59 62.46M358.25 62.89L359.08 64.02M358.25 62.89L357.43 64.02M358.25 62.89L356.92 62.46" stroke="#5B9BD5" stroke-width="0.55" fill="none" stroke-linecap="round" opacity="0.8"/>
<path d="M364.52 58.37L364.52 56.97M364.52 58.37L365.85 57.93M364.52 58.37L365.34 59.5M364.52 58.37L363.7 59.5M364.52 58.37L363.19 57.93M367.77 58.37L367.77 56.97M367.77 58.37L369.1 57.93M367.77 58.37L368.59 59.5M367.77 58.37L366.95 59.5M367.77 58.37L366.44 57.93M371.02 58.37L371.02 56.97M371.02 58.37L372.35 57.93M371.02 58.37L371.84 59.5M371.02 58.37L370.2 59.5M371.02 58.37L369.69 57.93" stroke="#5B9BD5" stroke-width="0.55" fill="none" stroke-linecap="round" opacity="0.8"/>
<path d="M377.28 61.7L377.28 60.3M377.28 61.7L378.62 61.26M377.28 61.7L378.11 62.83M377.28 61.7L376.46 62.83M377.28 61.7L375.95 61.26M380.53 61.7L380.53 60.3M380.53 61.7L381.87 61.26M380.53 61.7L381.36 62.83M380.53 61.7L379.71 62.83M380.53 61.7L379.2 61.26M383.78 61.7L383.78 60.3M383.78 61.7L385.12 61.26M383.78 61.7L384.61 62.83M383.78 61.7L382.96 62.83M383.78 61.7L382.45 61.26" stroke="#5B9BD5" stroke-width="0.55" fill="none" stroke-linecap="round" opacity="0.8"/>
<path d="M390.05 48.7L390.05 47.3M390.05 48.7L391.38 48.27M390.05 48.7L390.87 49.84M390.05 48.7L389.23 49.84M390.05 48.7L388.72 48.27M393.3 48.7L393.3 47.3M393.3 48.7L394.63 48.27M393.3 48.7L394.12 49.84M393.3 48.7L392.48 49.84M393.3 48.7L391.97 48.27M396.55 48.7L396.55 47.3M396.55 48.7L397.88 48.27M396.55 48.7L397.37 49.84M396.55 48.7L395.73 49.84M396.55 48.7L395.22 48.27" stroke="#5B9BD5" stroke-width="0.55" fill="none" stroke-linecap="round" opacity="0.8"/>
<path d="M402.81 53.07L402.81 51.67M402.81 53.07L404.15 52.64M402.81 53.07L403.64 54.21M402.81 53.07L401.99 54.21M402.81 53.07L401.48 52.64M406.06 53.07L406.06 51.67M406.06 53.07L407.4 52.64M406.06 53.07L406.89 54.21M406.06 53.07L405.24 54.21M406.06 53.07L404.73 52.64M409.31 53.07L409.31 51.67M409.31 53.07L410.65 52.64M409.31 53.07L410.14 54.21M409.31 53.07L408.49 54.21M409.31 53.07L407.98 52.64" stroke="#5B9BD5" stroke-width="0.55" fill="none" stroke-linecap="round" opacity="0.8"/>
<path d="M415.58 36.71L415.58 35.31M415.58 36.71L416.91 36.28M415.58 36.71L416.4 37.84M415.58 36.71L414.76 37.84M415.58 36.71L414.25 36.28M418.83 36.71L418.83 35.31M418.83 36.71L420.16 36.28M418.83 36.71L419.65 37.84M418.83 36.71L418.01 37.84M418.83 36.71L417.5 36.28M422.08 36.71L422.08 35.31M422.08 36.71L423.41 36.28M422.08 36.71L422.9 37.84M422.08 36.71L421.26 37.84M422.08 36.71L420.75 36.28" stroke="#5B9BD5" stroke-width="0.55" fill="none" stroke-linecap="round" opacity="0.8"/>
<path d="M428.34 40.89L428.34 39.49M428.34 40.89L429.68 40.46M428.34 40.89L429.17 42.02M428.34 40.89L427.52 42.02M428.34 40.89L427.01 40.46M431.59 40.89L431.59 39.49M431.59 40.89L432.93 40.46M431.59 40.89L432.42 42.02M431.59 40.89L430.77 42.02M431.59 40.89L430.26 40.46M434.84 40.89L434.84 39.49M434.84 40.89L436.18 40.46M434.84 40.89L435.67 42.02M434.84 40.89L434.02 42.02M434.84 40.89L433.51 40.46" stroke="#5B9BD5" stroke-width="0.55" fill="none" stroke-linecap="round" opacity="0.8"/>
<path d="M441.11 39.73L441.11 38.33M441.11 39.73L442.44 39.29M441.11 39.73L441.93 40.86M441.11 39.73L440.29 40.86M441.11 39.73L439.78 39.29M444.36 39.73L444.36 38.33M444.36 39.73L445.69 39.29M444.36 39.73L445.18 40.86M444.36 39.73L443.54 40.86M444.36 39.73L443.03 39.29M447.61 39.73L447.61 38.33M447.61 39.73L448.94 39.29M447.61 39.73L448.43 40.86M447.61 39.73L446.79 40.86M447.61 39.73L446.28 39.29" stroke="#5B9BD5" stroke-width="0.55" fill="none" stroke-linecap="round" opacity="0.8"/>
<path d="M380.53 96.81L380.53 95.41M380.53 96.81L381.87 96.37M380.53 96.81L381.36 97.94M380.53 96.81L379.71 97.94M380.53 96.81L379.2 96.37" stroke="#70AD47" stroke-width="0.55" fill="none" stroke-linecap="round" opacity="0.8"/>
<path d="M429.97 95.57L429.97 94.17M429.97 95.57L431.3 95.14M429.97 95.57L430.79 96.7M429.97 95.57L429.15 96.7M429.97 95.57L428.64 95.14M433.22 95.57L433.22 94.17M433.22 95.57L434.55 95.14M433.22 95.57L434.04 96.7M433.22 95.57L432.4 96.7M433.22 95.57L431.89 95.14" stroke="#70AD47" stroke-width="0.55" fill="none" stroke-linecap="round" opacity="0.8"/>
<path d="M316.71 143.1L316.71 141.7M316.71 143.1L318.04 142.67M316.71 143.1L317.53 144.23M316.71 143.1L315.89 144.23M316.71 143.1L315.38 142.67" stroke="#FF0000" stroke-width="0.55" fill="none" stroke-linecap="round" opacity="0.8"/>
<path d="M327.85 144.34L327.85 142.94M327.85 144.34L329.18 143.9M327.85 144.34L328.67 145.47M327.85 144.34L327.03 145.47M327.85 144.34L326.52 143.9M331.1 144.34L331.1 142.94M331.1 144.34L332.43 143.9M331.1 144.34L331.92 145.47M331.1 144.34L330.28 145.47M331.1 144.34L329.77 143.9" stroke="#FF0000" stroke-width="0.55" fill="none" stroke-linecap="round" opacity="0.8"/>
<path d="M340.62 144.34L340.62 142.94M340.62 144.34L341.95 143.9M340.62 144.34L341.44 145.47M340.62 144.34L339.79 145.47M340.62 144.34L339.28 143.9M343.87 144.34L343.87 142.94M343.87 144.34L345.2 143.9M343.87 144.34L344.69 145.47M343.87 144.34L343.04 145.47M343.87 144.34L342.53 143.9" stroke="#FF0000" stroke-width="0.55" fill="none" stroke-linecap="round" opacity="0.8"/>
<path d="M364.52 147.42L364.52 146.02M364.52 147.42L365.85 146.99M364.52 147.42L365.34 148.55M364.52 147.42L363.7 148.55M364.52 147.42L363.19 146.99M367.77 147.42L367.77 146.02M367.77 147.42L369.1 146.99M367.77 147.42L368.59 148.55M367.77 147.42L366.95 148.55M367.77 147.42L366.44 146.99M371.02 147.42L371.02 146.02M371.02 147.42L372.35 146.99M371.02 147.42L371.84 148.55M371.02 147.42L370.2 148.55M371.02 147.42L369.69 146.99" stroke="#FF0000" stroke-width="0.55" fill="none" stroke-linecap="round" opacity="0.8"/>
<path d="M417.2 146.88L417.2 145.48M417.2 146.88L418.54 146.45M417.2 146.88L418.03 148.02M417.2 146.88L416.38 148.02M417.2 146.88L415.87 146.45M420.45 146.88L420.45 145.48M420.45 146.88L421.79 146.45M420.45 146.88L421.28 148.02M420.45 146.88L419.63 148.02M420.45 146.88L419.12 146.45" stroke="#FF0000" stroke-width="0.55" fill="none" stroke-linecap="round" opacity="0.8"/>
<path d="M431.59 146.94L431.59 145.54M431.59 146.94L432.93 146.51M431.59 146.94L432.42 148.07M431.59 146.94L430.77 148.07M431.59 146.94L430.26 146.51" stroke="#FF0000" stroke-width="0.55" fill="none" stroke-linecap="round" opacity="0.8"/>
<text x="466.9" y="12.8" font-size="11.2" font-weight="bold" fill="#000">C</text>
<path d="M493.6 20.65V158.7H685" stroke="#303030" stroke-width="1.3" fill="none"/>
<path d="M491.3 148.15H493.6" stroke="#303030" stroke-width="1.15"/>
<text transform="translate(486,150.6) scale(1,1.14)" font-size="7.0" fill="#333333" class="t" text-anchor="end">0</text>
<path d="M491.3 129.94H493.6" stroke="#303030" stroke-width="1.15"/>
<text transform="translate(486,132.39) scale(1,1.14)" font-size="7.0" fill="#333333" class="t" text-anchor="end">5</text>
<path d="M491.3 111.72H493.6" stroke="#303030" stroke-width="1.15"/>
<text transform="translate(486,114.17) scale(1,1.14)" font-size="7.0" fill="#333333" class="t" text-anchor="end">10</text>
<path d="M491.3 93.51H493.6" stroke="#303030" stroke-width="1.15"/>
<text transform="translate(486,95.96) scale(1,1.14)" font-size="7.0" fill="#333333" class="t" text-anchor="end">15</text>
<path d="M491.3 75.29H493.6" stroke="#303030" stroke-width="1.15"/>
<text transform="translate(486,77.74) scale(1,1.14)" font-size="7.0" fill="#333333" class="t" text-anchor="end">20</text>
<path d="M491.3 57.08H493.6" stroke="#303030" stroke-width="1.15"/>
<text transform="translate(486,59.53) scale(1,1.14)" font-size="7.0" fill="#333333" class="t" text-anchor="end">25</text>
<path d="M491.3 38.86H493.6" stroke="#303030" stroke-width="1.15"/>
<text transform="translate(486,41.31) scale(1,1.14)" font-size="7.0" fill="#333333" class="t" text-anchor="end">30</text>
<path d="M491.3 20.65H493.6" stroke="#303030" stroke-width="1.15"/>
<text transform="translate(486,23.1) scale(1,1.14)" font-size="7.0" fill="#333333" class="t" text-anchor="end">35</text>
<text transform="translate(499.85,169) scale(1,1.14)" font-size="7.0" fill="#333333" class="t" text-anchor="middle">0</text>
<text transform="translate(512.65,169) scale(1,1.14)" font-size="7.0" fill="#333333" class="t" text-anchor="middle">0.5</text>
<text transform="translate(525.46,169) scale(1,1.14)" font-size="7.0" fill="#333333" class="t" text-anchor="middle">1</text>
<text transform="translate(538.26,169) scale(1,1.14)" font-size="7.0" fill="#333333" class="t" text-anchor="middle">1.5</text>
<text transform="translate(551.07,169) scale(1,1.14)" font-size="7.0" fill="#333333" class="t" text-anchor="middle">2</text>
<text transform="translate(563.88,169) scale(1,1.14)" font-size="7.0" fill="#333333" class="t" text-anchor="middle">2.5</text>
<text transform="translate(576.68,169) scale(1,1.14)" font-size="7.0" fill="#333333" class="t" text-anchor="middle">3</text>
<text transform="translate(589.49,169) scale(1,1.14)" font-size="7.0" fill="#333333" class="t" text-anchor="middle">3.5</text>
<text transform="translate(602.29,169) scale(1,1.14)" font-size="7.0" fill="#333333" class="t" text-anchor="middle">4</text>
<text transform="translate(615.1,169) scale(1,1.14)" font-size="7.0" fill="#333333" class="t" text-anchor="middle">4.5</text>
<text transform="translate(627.9,169) scale(1,1.14)" font-size="7.0" fill="#333333" class="t" text-anchor="middle">5</text>
<text transform="translate(640.71,169) scale(1,1.14)" font-size="7.0" fill="#333333" class="t" text-anchor="middle">5.5</text>
<text transform="translate(653.51,169) scale(1,1.14)" font-size="7.0" fill="#333333" class="t" text-anchor="middle">6</text>
<text transform="translate(666.32,169) scale(1,1.14)" font-size="7.0" fill="#333333" class="t" text-anchor="middle">6.5</text>
<text transform="translate(679.12,169) scale(1,1.14)" font-size="7.0" fill="#333333" class="t" text-anchor="middle">7</text>
<text x="590" y="179.35" font-size="8.3" fill="#333333" class="t" text-anchor="middle">years</text>
<text transform="translate(475.2,90.6) rotate(-90)" font-size="8.45" fill="#333333" class="t" text-anchor="middle">CAT score</text>
<path d="M500.5 95.22V120.65M498.3 95.22H502.7M498.3 120.65H502.7M513.5 98.71V126.32M511.3 98.71H515.7M511.3 126.32H515.7M525.5 101.84V130.17M523.3 101.84H527.7M523.3 130.17H527.7M538.5 107.87V136.2M536.3 107.87H540.7M536.3 136.2H540.7M551.5 103.58V131.19M549.3 103.58H553.7M549.3 131.19H553.7M563.5 104.42V134.21M561.3 104.42H565.7M561.3 134.21H565.7M576.5 108.99V137.84M574.3 108.99H578.7M574.3 137.84H578.7M589.5 113.75V144.27M587.3 113.75H591.7M587.3 144.27H591.7M602.5 119.93V151.9M600.3 119.93H604.7M600.3 151.9H604.7M614.5 108.3V139.91M612.3 108.3H616.7M612.3 139.91H616.7M627.5 120.8V153.5M625.3 120.8H629.7M625.3 153.5H629.7M640.5 111.21V145.36M638.3 111.21H642.7M638.3 145.36H642.7M652.5 110.85V143.54M650.3 110.85H654.7M650.3 143.54H654.7M665.5 113.75V150.81M663.3 113.75H667.7M663.3 150.81H667.7M678.5 103.22V145.36M676.3 103.22H680.7M676.3 145.36H680.7" stroke="#FF5C5C" stroke-width="1" fill="none"/>
<path d="M500.5 111.57V129.74M498.3 111.57H502.7M498.3 129.74H502.7M513.5 113.32V130.75M511.3 113.32H515.7M511.3 130.75H515.7M525.5 105.76V127.56M523.3 105.76H527.7M523.3 127.56H527.7M538.5 106.49V128.28M536.3 106.49H540.7M536.3 128.28H540.7M551.5 105.11V126.9M549.3 105.11H553.7M549.3 126.9H553.7M563.5 106.49V128.28M561.3 106.49H565.7M561.3 128.28H565.7M576.5 104.31V126.1M574.3 104.31H578.7M574.3 126.1H578.7M589.5 103.94V125.74M587.3 103.94H591.7M587.3 125.74H591.7M602.5 106.12V127.92M600.3 106.12H604.7M600.3 127.92H604.7M614.5 100.13V121.93M612.3 100.13H616.7M612.3 121.93H616.7M627.5 101.4V123.2M625.3 101.4H629.7M625.3 123.2H629.7M640.5 103.33V125.12M638.3 103.33H642.7M638.3 125.12H642.7M652.5 103.33V125.12M650.3 103.33H654.7M650.3 125.12H654.7M665.5 99.33V121.13M663.3 99.33H667.7M663.3 121.13H667.7M678.5 100.67V122.47M676.3 100.67H680.7M676.3 122.47H680.7" stroke="#ADD395" stroke-width="1" fill="none"/>
<path d="M500.5 96.75V122.91M498.3 96.75H502.7M498.3 122.91H502.7M513.5 99.8V125.23M511.3 99.8H515.7M511.3 125.23H515.7M525.5 86.25V113.13M523.3 86.25H527.7M523.3 113.13H527.7M538.5 87.34V112.04M536.3 87.34H540.7M536.3 112.04H540.7M551.5 81.78V107.94M549.3 81.78H553.7M549.3 107.94H553.7M563.5 73.43V99.95M561.3 73.43H565.7M561.3 99.95H565.7M576.5 71.25V97.77M574.3 71.25H578.7M574.3 97.77H578.7M589.5 70.52V95.95M587.3 70.52H591.7M587.3 95.95H591.7M602.5 55.63V83.24M600.3 55.63H604.7M600.3 83.24H604.7M614.5 57.19V86.98M612.3 57.19H616.7M612.3 86.98H616.7M627.5 64.71V93.04M625.3 64.71H629.7M625.3 93.04H629.7M640.5 54.54V87.23M638.3 54.54H642.7M638.3 87.23H642.7M652.5 48.18V83.42M650.3 48.18H654.7M650.3 83.42H654.7M665.5 51.08V88.87M663.3 51.08H667.7M663.3 88.87H667.7M678.5 31.29V63.98M676.3 31.29H680.7M676.3 63.98H680.7" stroke="#9EC2E6" stroke-width="1" fill="none"/>
<polyline points="499.9,107.94 512.61,112.52 525.31,116 538.01,122.04 550.72,117.39 563.42,119.31 576.13,123.42 588.84,129.01 601.54,135.91 614.25,124.11 626.95,137.15 639.65,128.28 652.36,127.19 665.06,132.28 677.77,124.29" stroke="#FF0000" stroke-width="2.0" fill="none" stroke-linejoin="round"/>
<g fill="#FF0000"><circle cx="499.9" cy="107.94" r="2.6"/><circle cx="512.61" cy="112.52" r="2.6"/><circle cx="525.31" cy="116" r="2.6"/><circle cx="538.01" cy="122.04" r="2.6"/><circle cx="550.72" cy="117.39" r="2.6"/><circle cx="563.42" cy="119.31" r="2.6"/><circle cx="576.13" cy="123.42" r="2.6"/><circle cx="588.84" cy="129.01" r="2.6"/><circle cx="601.54" cy="135.91" r="2.6"/><circle cx="614.25" cy="124.11" r="2.6"/><circle cx="626.95" cy="137.15" r="2.6"/><circle cx="639.65" cy="128.28" r="2.6"/><circle cx="652.36" cy="127.19" r="2.6"/><circle cx="665.06" cy="132.28" r="2.6"/><circle cx="677.77" cy="124.29" r="2.6"/></g>
<polyline points="499.9,120.65 512.61,122.04 525.31,116.66 538.01,117.39 550.72,116 563.42,117.39 576.13,115.21 588.84,114.84 601.54,117.02 614.25,111.03 626.95,112.3 639.65,114.22 652.36,114.22 665.06,110.23 677.77,111.57" stroke="#70AD47" stroke-width="2.0" fill="none" stroke-linejoin="round"/>
<g fill="#70AD47"><circle cx="499.9" cy="120.65" r="2.6"/><circle cx="512.61" cy="122.04" r="2.6"/><circle cx="525.31" cy="116.66" r="2.6"/><circle cx="538.01" cy="117.39" r="2.6"/><circle cx="550.72" cy="116" r="2.6"/><circle cx="563.42" cy="117.39" r="2.6"/><circle cx="576.13" cy="115.21" r="2.6"/><circle cx="588.84" cy="114.84" r="2.6"/><circle cx="601.54" cy="117.02" r="2.6"/><circle cx="614.25" cy="111.03" r="2.6"/><circle cx="626.95" cy="112.3" r="2.6"/><circle cx="639.65" cy="114.22" r="2.6"/><circle cx="652.36" cy="114.22" r="2.6"/><circle cx="665.06" cy="110.23" r="2.6"/><circle cx="677.77" cy="111.57" r="2.6"/></g>
<polyline points="499.9,109.83 512.61,112.52 525.31,99.69 538.01,99.69 550.72,94.86 563.42,86.69 576.13,84.51 588.84,83.24 601.54,69.43 614.25,72.08 626.95,78.88 639.65,70.88 652.36,65.8 665.06,69.98 677.77,47.63" stroke="#5B9BD5" stroke-width="2.0" fill="none" stroke-linejoin="round"/>
<g fill="#5B9BD5"><circle cx="499.9" cy="109.83" r="2.6"/><circle cx="512.61" cy="112.52" r="2.6"/><circle cx="525.31" cy="99.69" r="2.6"/><circle cx="538.01" cy="99.69" r="2.6"/><circle cx="550.72" cy="94.86" r="2.6"/><circle cx="563.42" cy="86.69" r="2.6"/><circle cx="576.13" cy="84.51" r="2.6"/><circle cx="588.84" cy="83.24" r="2.6"/><circle cx="601.54" cy="69.43" r="2.6"/><circle cx="614.25" cy="72.08" r="2.6"/><circle cx="626.95" cy="78.88" r="2.6"/><circle cx="639.65" cy="70.88" r="2.6"/><circle cx="652.36" cy="65.8" r="2.6"/><circle cx="665.06" cy="69.98" r="2.6"/><circle cx="677.77" cy="47.63" r="2.6"/></g>
<path d="M550.72 77.28L550.72 75.88M550.72 77.28L552.05 76.85M550.72 77.28L551.54 78.42M550.72 77.28L549.9 78.42M550.72 77.28L549.39 76.85" stroke="#5B9BD5" stroke-width="0.55" fill="none" stroke-linecap="round" opacity="0.8"/>
<path d="M560.17 68.93L560.17 67.53M560.17 68.93L561.51 68.49M560.17 68.93L561 70.06M560.17 68.93L559.35 70.06M560.17 68.93L558.84 68.49M563.42 68.93L563.42 67.53M563.42 68.93L564.76 68.49M563.42 68.93L564.25 70.06M563.42 68.93L562.6 70.06M563.42 68.93L562.09 68.49M566.67 68.93L566.67 67.53M566.67 68.93L568.01 68.49M566.67 68.93L567.5 70.06M566.67 68.93L565.85 70.06M566.67 68.93L565.34 68.49" stroke="#5B9BD5" stroke-width="0.55" fill="none" stroke-linecap="round" opacity="0.8"/>
<path d="M572.88 66.75L572.88 65.35M572.88 66.75L574.21 66.31M572.88 66.75L573.7 67.88M572.88 66.75L572.06 67.88M572.88 66.75L571.55 66.31M576.13 66.75L576.13 65.35M576.13 66.75L577.46 66.31M576.13 66.75L576.95 67.88M576.13 66.75L575.31 67.88M576.13 66.75L574.8 66.31M579.38 66.75L579.38 65.35M579.38 66.75L580.71 66.31M579.38 66.75L580.2 67.88M579.38 66.75L578.56 67.88M579.38 66.75L578.05 66.31" stroke="#5B9BD5" stroke-width="0.55" fill="none" stroke-linecap="round" opacity="0.8"/>
<path d="M585.59 66.02L585.59 64.62M585.59 66.02L586.92 65.59M585.59 66.02L586.41 67.15M585.59 66.02L584.76 67.15M585.59 66.02L584.25 65.59M588.84 66.02L588.84 64.62M588.84 66.02L590.17 65.59M588.84 66.02L589.66 67.15M588.84 66.02L588.01 67.15M588.84 66.02L587.5 65.59M592.09 66.02L592.09 64.62M592.09 66.02L593.42 65.59M592.09 66.02L592.91 67.15M592.09 66.02L591.26 67.15M592.09 66.02L590.75 65.59" stroke="#5B9BD5" stroke-width="0.55" fill="none" stroke-linecap="round" opacity="0.8"/>
<path d="M598.29 51.13L598.29 49.73M598.29 51.13L599.62 50.69M598.29 51.13L599.11 52.26M598.29 51.13L597.47 52.26M598.29 51.13L596.96 50.69M601.54 51.13L601.54 49.73M601.54 51.13L602.87 50.69M601.54 51.13L602.36 52.26M601.54 51.13L600.72 52.26M601.54 51.13L600.21 50.69M604.79 51.13L604.79 49.73M604.79 51.13L606.12 50.69M604.79 51.13L605.61 52.26M604.79 51.13L603.97 52.26M604.79 51.13L603.46 50.69" stroke="#5B9BD5" stroke-width="0.55" fill="none" stroke-linecap="round" opacity="0.8"/>
<path d="M611 52.69L611 51.29M611 52.69L612.33 52.26M611 52.69L611.82 53.82M611 52.69L610.17 53.82M611 52.69L609.66 52.26M614.25 52.69L614.25 51.29M614.25 52.69L615.58 52.26M614.25 52.69L615.07 53.82M614.25 52.69L613.42 53.82M614.25 52.69L612.91 52.26M617.5 52.69L617.5 51.29M617.5 52.69L618.83 52.26M617.5 52.69L618.32 53.82M617.5 52.69L616.67 53.82M617.5 52.69L616.16 52.26" stroke="#5B9BD5" stroke-width="0.55" fill="none" stroke-linecap="round" opacity="0.8"/>
<path d="M623.7 60.21L623.7 58.81M623.7 60.21L625.03 59.78M623.7 60.21L624.52 61.34M623.7 60.21L622.88 61.34M623.7 60.21L622.37 59.78M626.95 60.21L626.95 58.81M626.95 60.21L628.28 59.78M626.95 60.21L627.77 61.34M626.95 60.21L626.13 61.34M626.95 60.21L625.62 59.78M630.2 60.21L630.2 58.81M630.2 60.21L631.53 59.78M630.2 60.21L631.02 61.34M630.2 60.21L629.38 61.34M630.2 60.21L628.87 59.78" stroke="#5B9BD5" stroke-width="0.55" fill="none" stroke-linecap="round" opacity="0.8"/>
<path d="M636.4 50.04L636.4 48.64M636.4 50.04L637.74 49.6M636.4 50.04L637.23 51.17M636.4 50.04L635.58 51.17M636.4 50.04L635.07 49.6M639.65 50.04L639.65 48.64M639.65 50.04L640.99 49.6M639.65 50.04L640.48 51.17M639.65 50.04L638.83 51.17M639.65 50.04L638.32 49.6M642.9 50.04L642.9 48.64M642.9 50.04L644.24 49.6M642.9 50.04L643.73 51.17M642.9 50.04L642.08 51.17M642.9 50.04L641.57 49.6" stroke="#5B9BD5" stroke-width="0.55" fill="none" stroke-linecap="round" opacity="0.8"/>
<path d="M649.11 43.68L649.11 42.28M649.11 43.68L650.44 43.25M649.11 43.68L649.93 44.81M649.11 43.68L648.29 44.81M649.11 43.68L647.78 43.25M652.36 43.68L652.36 42.28M652.36 43.68L653.69 43.25M652.36 43.68L653.18 44.81M652.36 43.68L651.54 44.81M652.36 43.68L651.03 43.25M655.61 43.68L655.61 42.28M655.61 43.68L656.94 43.25M655.61 43.68L656.43 44.81M655.61 43.68L654.79 44.81M655.61 43.68L654.28 43.25" stroke="#5B9BD5" stroke-width="0.55" fill="none" stroke-linecap="round" opacity="0.8"/>
<path d="M661.81 46.58L661.81 45.18M661.81 46.58L663.15 46.15M661.81 46.58L662.64 47.72M661.81 46.58L660.99 47.72M661.81 46.58L660.48 46.15M665.06 46.58L665.06 45.18M665.06 46.58L666.4 46.15M665.06 46.58L665.89 47.72M665.06 46.58L664.24 47.72M665.06 46.58L663.73 46.15M668.31 46.58L668.31 45.18M668.31 46.58L669.65 46.15M668.31 46.58L669.14 47.72M668.31 46.58L667.49 47.72M668.31 46.58L666.98 46.15" stroke="#5B9BD5" stroke-width="0.55" fill="none" stroke-linecap="round" opacity="0.8"/>
<path d="M674.52 26.79L674.52 25.39M674.52 26.79L675.85 26.35M674.52 26.79L675.34 27.92M674.52 26.79L673.7 27.92M674.52 26.79L673.19 26.35M677.77 26.79L677.77 25.39M677.77 26.79L679.1 26.35M677.77 26.79L678.59 27.92M677.77 26.79L676.95 27.92M677.77 26.79L676.44 26.35M681.02 26.79L681.02 25.39M681.02 26.79L682.35 26.35M681.02 26.79L681.84 27.92M681.02 26.79L680.2 27.92M681.02 26.79L679.69 26.35" stroke="#5B9BD5" stroke-width="0.55" fill="none" stroke-linecap="round" opacity="0.8"/>
<path d="M587.21 148.27L587.21 146.87M587.21 148.27L588.54 147.84M587.21 148.27L588.03 149.4M587.21 148.27L586.39 149.4M587.21 148.27L585.88 147.84M590.46 148.27L590.46 146.87M590.46 148.27L591.79 147.84M590.46 148.27L591.28 149.4M590.46 148.27L589.64 149.4M590.46 148.27L589.13 147.84" stroke="#FF0000" stroke-width="0.55" fill="none" stroke-linecap="round" opacity="0.8"/>
<path d="M598.29 155.9L598.29 154.5M598.29 155.9L599.62 155.46M598.29 155.9L599.11 157.03M598.29 155.9L597.47 157.03M598.29 155.9L596.96 155.46M601.54 155.9L601.54 154.5M601.54 155.9L602.87 155.46M601.54 155.9L602.36 157.03M601.54 155.9L600.72 157.03M601.54 155.9L600.21 155.46M604.79 155.9L604.79 154.5M604.79 155.9L606.12 155.46M604.79 155.9L605.61 157.03M604.79 155.9L603.97 157.03M604.79 155.9L603.46 155.46" stroke="#FF0000" stroke-width="0.55" fill="none" stroke-linecap="round" opacity="0.8"/>
<path d="M631.3 155.5L631.3 154.1M631.3 155.5L632.63 155.06M631.3 155.5L632.12 156.63M631.3 155.5L630.48 156.63M631.3 155.5L629.97 155.06M634.55 155.5L634.55 154.1M634.55 155.5L635.88 155.06M634.55 155.5L635.37 156.63M634.55 155.5L633.73 156.63M634.55 155.5L633.22 155.06M637.8 155.5L637.8 154.1M637.8 155.5L639.13 155.06M637.8 155.5L638.62 156.63M637.8 155.5L636.98 156.63M637.8 155.5L636.47 155.06" stroke="#FF0000" stroke-width="0.55" fill="none" stroke-linecap="round" opacity="0.8"/>
<path d="M665.06 154.81L665.06 153.41M665.06 154.81L666.4 154.38M665.06 154.81L665.89 155.94M665.06 154.81L664.24 155.94M665.06 154.81L663.73 154.38" stroke="#FF0000" stroke-width="0.55" fill="none" stroke-linecap="round" opacity="0.8"/>
<text x="1.8" y="195.6" font-size="11.2" font-weight="bold" fill="#000">D</text>
<path d="M27.65 200.4V339H219.6" stroke="#303030" stroke-width="1.3" fill="none"/>
<path d="M25.35 316.36H27.65" stroke="#303030" stroke-width="1.15"/>
<text transform="translate(20.3,318.81) scale(1,1.14)" font-size="7.0" fill="#333333" class="t" text-anchor="end">0</text>
<path d="M25.35 293.17H27.65" stroke="#303030" stroke-width="1.15"/>
<text transform="translate(20.3,295.62) scale(1,1.14)" font-size="7.0" fill="#333333" class="t" text-anchor="end">5</text>
<path d="M25.35 269.98H27.65" stroke="#303030" stroke-width="1.15"/>
<text transform="translate(20.3,272.43) scale(1,1.14)" font-size="7.0" fill="#333333" class="t" text-anchor="end">10</text>
<path d="M25.35 246.78H27.65" stroke="#303030" stroke-width="1.15"/>
<text transform="translate(20.3,249.23) scale(1,1.14)" font-size="7.0" fill="#333333" class="t" text-anchor="end">15</text>
<path d="M25.35 223.59H27.65" stroke="#303030" stroke-width="1.15"/>
<text transform="translate(20.3,226.04) scale(1,1.14)" font-size="7.0" fill="#333333" class="t" text-anchor="end">20</text>
<path d="M25.35 200.4H27.65" stroke="#303030" stroke-width="1.15"/>
<text transform="translate(20.3,202.85) scale(1,1.14)" font-size="7.0" fill="#333333" class="t" text-anchor="end">25</text>
<text transform="translate(34.15,349.8) scale(1,1.14)" font-size="7.0" fill="#333333" class="t" text-anchor="middle">0</text>
<text transform="translate(46.93,349.8) scale(1,1.14)" font-size="7.0" fill="#333333" class="t" text-anchor="middle">0.5</text>
<text transform="translate(59.71,349.8) scale(1,1.14)" font-size="7.0" fill="#333333" class="t" text-anchor="middle">1</text>
<text transform="translate(72.49,349.8) scale(1,1.14)" font-size="7.0" fill="#333333" class="t" text-anchor="middle">1.5</text>
<text transform="translate(85.27,349.8) scale(1,1.14)" font-size="7.0" fill="#333333" class="t" text-anchor="middle">2</text>
<text transform="translate(98.05,349.8) scale(1,1.14)" font-size="7.0" fill="#333333" class="t" text-anchor="middle">2.5</text>
<text transform="translate(110.83,349.8) scale(1,1.14)" font-size="7.0" fill="#333333" class="t" text-anchor="middle">3</text>
<text transform="translate(123.61,349.8) scale(1,1.14)" font-size="7.0" fill="#333333" class="t" text-anchor="middle">3.5</text>
<text transform="translate(136.39,349.8) scale(1,1.14)" font-size="7.0" fill="#333333" class="t" text-anchor="middle">4</text>
<text transform="translate(149.17,349.8) scale(1,1.14)" font-size="7.0" fill="#333333" class="t" text-anchor="middle">4.5</text>
<text transform="translate(161.95,349.8) scale(1,1.14)" font-size="7.0" fill="#333333" class="t" text-anchor="middle">5</text>
<text transform="translate(174.73,349.8) scale(1,1.14)" font-size="7.0" fill="#333333" class="t" text-anchor="middle">5.5</text>
<text transform="translate(187.51,349.8) scale(1,1.14)" font-size="7.0" fill="#333333" class="t" text-anchor="middle">6</text>
<text transform="translate(200.29,349.8) scale(1,1.14)" font-size="7.0" fill="#333333" class="t" text-anchor="middle">6.5</text>
<text transform="translate(213.07,349.8) scale(1,1.14)" font-size="7.0" fill="#333333" class="t" text-anchor="middle">7</text>
<text x="123.95" y="361.15" font-size="8.3" fill="#333333" class="t" text-anchor="middle">years</text>
<text transform="translate(7.9,273.15) rotate(-90)" font-size="8.57" fill="#333333" class="t" text-anchor="middle">E-RS Total score</text>
<path d="M34.5 271.34V301.64M32.3 271.34H36.7M32.3 301.64H36.7M47.5 268.03V298.33M45.3 268.03H49.7M45.3 298.33H49.7M59.5 273.36V305.5M57.3 273.36H61.7M57.3 305.5H61.7M72.5 277.07V308.3M70.3 277.07H74.7M70.3 308.3H74.7M85.5 288.83V320.97M83.3 288.83H87.7M83.3 320.97H87.7M98.5 278.04V311.1M96.3 278.04H100.7M96.3 311.1H100.7M110.5 286.12V318.26M108.3 286.12H112.7M108.3 318.26H112.7M123.5 283.64V316.24M121.3 283.64H125.7M121.3 316.24H125.7M136.5 288.05V321.11M134.3 288.05H138.7M134.3 321.11H138.7M149.5 276.75V313.49M147.3 276.75H151.7M147.3 313.49H151.7M161.5 285.48V322.49M159.3 285.48H163.7M159.3 322.49H163.7M174.5 290.34V325.79M172.3 290.34H176.7M172.3 325.79H176.7M187.5 293.42V329.79M185.3 293.42H189.7M185.3 329.79H189.7M200.5 301.41V336.58M198.3 301.41H202.7M198.3 336.58H202.7M212.5 288.65V326.57M210.3 288.65H214.7M210.3 326.57H214.7" stroke="#FF5C5C" stroke-width="1" fill="none"/>
<path d="M34.5 284.33V305.45M32.3 284.33H36.7M32.3 305.45H36.7M47.5 281.62V302.74M45.3 281.62H49.7M45.3 302.74H49.7M59.5 277.12V300.08M57.3 277.12H61.7M57.3 300.08H61.7M72.5 281.21V304.17M70.3 281.21H74.7M70.3 304.17H74.7M85.5 280.33V302.37M83.3 280.33H87.7M83.3 302.37H87.7M98.5 279.78V301.82M96.3 279.78H100.7M96.3 301.82H100.7M110.5 278.13V300.17M108.3 278.13H112.7M108.3 300.17H112.7M123.5 282.08V304.12M121.3 282.08H125.7M121.3 304.12H125.7M136.5 279.88V301.92M134.3 279.88H138.7M134.3 301.92H138.7M149.5 276.66V298.7M147.3 276.66H151.7M147.3 298.7H151.7M161.5 278.77V300.81M159.3 278.77H163.7M159.3 300.81H163.7M174.5 279.37V301.41M172.3 279.37H176.7M172.3 301.41H176.7M187.5 281.53V303.57M185.3 281.53H189.7M185.3 303.57H189.7M200.5 269.96V293.38M198.3 269.96H202.7M198.3 293.38H202.7M212.5 276.16V298.01M210.3 276.16H214.7M210.3 298.01H214.7" stroke="#ADD395" stroke-width="1" fill="none"/>
<path d="M34.5 276.2V303.75M32.3 276.2H36.7M32.3 303.75H36.7M47.5 271.15V299.62M45.3 271.15H49.7M45.3 299.62H49.7M59.5 263.58V296.18M57.3 263.58H61.7M57.3 296.18H61.7M72.5 256.73V285.2M70.3 256.73H74.7M70.3 285.2H74.7M85.5 247.83V276.75M83.3 247.83H87.7M83.3 276.75H87.7M98.5 247.14V277.44M96.3 247.14H100.7M96.3 277.44H100.7M110.5 236.16V267.75M108.3 236.16H112.7M108.3 267.75H112.7M123.5 237.36V268.76M121.3 237.36H125.7M121.3 268.76H125.7M136.5 239.33V272.39M134.3 239.33H138.7M134.3 272.39H138.7M149.5 235.43V270.69M147.3 235.43H151.7M147.3 270.69H151.7M161.5 234.65V268.9M159.3 234.65H163.7M159.3 268.9H163.7M174.5 238.64V272.62M172.3 238.64H176.7M172.3 272.62H176.7M187.5 213.62V254.02M185.3 213.62H189.7M185.3 254.02H189.7M200.5 216.46V253.84M198.3 216.46H202.7M198.3 253.84H202.7M212.5 208.8V243.14M210.3 208.8H214.7M210.3 243.14H214.7" stroke="#9EC2E6" stroke-width="1" fill="none"/>
<polyline points="33.9,286.49 46.66,283.18 59.41,289.43 72.16,292.69 84.92,304.9 97.68,294.57 110.43,302.19 123.19,299.94 135.94,304.58 148.69,295.12 161.45,303.98 174.21,308.07 186.96,311.6 199.72,319 212.47,307.61" stroke="#FF0000" stroke-width="2.0" fill="none" stroke-linejoin="round"/>
<g fill="#FF0000"><circle cx="33.9" cy="286.49" r="2.6"/><circle cx="46.66" cy="283.18" r="2.6"/><circle cx="59.41" cy="289.43" r="2.6"/><circle cx="72.16" cy="292.69" r="2.6"/><circle cx="84.92" cy="304.9" r="2.6"/><circle cx="97.68" cy="294.57" r="2.6"/><circle cx="110.43" cy="302.19" r="2.6"/><circle cx="123.19" cy="299.94" r="2.6"/><circle cx="135.94" cy="304.58" r="2.6"/><circle cx="148.69" cy="295.12" r="2.6"/><circle cx="161.45" cy="303.98" r="2.6"/><circle cx="174.21" cy="308.07" r="2.6"/><circle cx="186.96" cy="311.6" r="2.6"/><circle cx="199.72" cy="319" r="2.6"/><circle cx="212.47" cy="307.61" r="2.6"/></g>
<polyline points="33.9,294.89 46.66,292.18 59.41,288.6 72.16,292.69 84.92,291.35 97.68,290.8 110.43,289.15 123.19,293.1 135.94,290.9 148.69,287.68 161.45,289.79 174.21,290.39 186.96,292.55 199.72,281.67 212.47,287.08" stroke="#70AD47" stroke-width="2.0" fill="none" stroke-linejoin="round"/>
<g fill="#70AD47"><circle cx="33.9" cy="294.89" r="2.6"/><circle cx="46.66" cy="292.18" r="2.6"/><circle cx="59.41" cy="288.6" r="2.6"/><circle cx="72.16" cy="292.69" r="2.6"/><circle cx="84.92" cy="291.35" r="2.6"/><circle cx="97.68" cy="290.8" r="2.6"/><circle cx="110.43" cy="289.15" r="2.6"/><circle cx="123.19" cy="293.1" r="2.6"/><circle cx="135.94" cy="290.9" r="2.6"/><circle cx="148.69" cy="287.68" r="2.6"/><circle cx="161.45" cy="289.79" r="2.6"/><circle cx="174.21" cy="290.39" r="2.6"/><circle cx="186.96" cy="292.55" r="2.6"/><circle cx="199.72" cy="281.67" r="2.6"/><circle cx="212.47" cy="287.08" r="2.6"/></g>
<polyline points="33.9,289.98 46.66,285.39 59.41,279.88 72.16,270.97 84.92,262.29 97.68,262.29 110.43,251.96 123.19,253.06 135.94,255.86 148.69,253.06 161.45,251.77 174.21,255.63 186.96,233.82 199.72,235.15 212.47,225.97" stroke="#5B9BD5" stroke-width="2.0" fill="none" stroke-linejoin="round"/>
<g fill="#5B9BD5"><circle cx="33.9" cy="289.98" r="2.6"/><circle cx="46.66" cy="285.39" r="2.6"/><circle cx="59.41" cy="279.88" r="2.6"/><circle cx="72.16" cy="270.97" r="2.6"/><circle cx="84.92" cy="262.29" r="2.6"/><circle cx="97.68" cy="262.29" r="2.6"/><circle cx="110.43" cy="251.96" r="2.6"/><circle cx="123.19" cy="253.06" r="2.6"/><circle cx="135.94" cy="255.86" r="2.6"/><circle cx="148.69" cy="253.06" r="2.6"/><circle cx="161.45" cy="251.77" r="2.6"/><circle cx="174.21" cy="255.63" r="2.6"/><circle cx="186.96" cy="233.82" r="2.6"/><circle cx="199.72" cy="235.15" r="2.6"/><circle cx="212.47" cy="225.97" r="2.6"/></g>
<path d="M70.54 252.23L70.54 250.83M70.54 252.23L71.87 251.8M70.54 252.23L71.36 253.37M70.54 252.23L69.72 253.37M70.54 252.23L69.21 251.8M73.79 252.23L73.79 250.83M73.79 252.23L75.12 251.8M73.79 252.23L74.61 253.37M73.79 252.23L72.97 253.37M73.79 252.23L72.46 251.8" stroke="#5B9BD5" stroke-width="0.55" fill="none" stroke-linecap="round" opacity="0.8"/>
<path d="M81.67 243.33L81.67 241.93M81.67 243.33L83 242.89M81.67 243.33L82.49 244.46M81.67 243.33L80.85 244.46M81.67 243.33L80.34 242.89M84.92 243.33L84.92 241.93M84.92 243.33L86.25 242.89M84.92 243.33L85.74 244.46M84.92 243.33L84.1 244.46M84.92 243.33L83.59 242.89M88.17 243.33L88.17 241.93M88.17 243.33L89.5 242.89M88.17 243.33L88.99 244.46M88.17 243.33L87.35 244.46M88.17 243.33L86.84 242.89" stroke="#5B9BD5" stroke-width="0.55" fill="none" stroke-linecap="round" opacity="0.8"/>
<path d="M94.43 242.64L94.43 241.24M94.43 242.64L95.76 242.2M94.43 242.64L95.25 243.77M94.43 242.64L93.6 243.77M94.43 242.64L93.09 242.2M97.68 242.64L97.68 241.24M97.68 242.64L99.01 242.2M97.68 242.64L98.5 243.77M97.68 242.64L96.85 243.77M97.68 242.64L96.34 242.2M100.93 242.64L100.93 241.24M100.93 242.64L102.26 242.2M100.93 242.64L101.75 243.77M100.93 242.64L100.1 243.77M100.93 242.64L99.59 242.2" stroke="#5B9BD5" stroke-width="0.55" fill="none" stroke-linecap="round" opacity="0.8"/>
<path d="M107.18 231.66L107.18 230.26M107.18 231.66L108.51 231.23M107.18 231.66L108 232.8M107.18 231.66L106.36 232.8M107.18 231.66L105.85 231.23M110.43 231.66L110.43 230.26M110.43 231.66L111.76 231.23M110.43 231.66L111.25 232.8M110.43 231.66L109.61 232.8M110.43 231.66L109.1 231.23M113.68 231.66L113.68 230.26M113.68 231.66L115.01 231.23M113.68 231.66L114.5 232.8M113.68 231.66L112.86 232.8M113.68 231.66L112.35 231.23" stroke="#5B9BD5" stroke-width="0.55" fill="none" stroke-linecap="round" opacity="0.8"/>
<path d="M119.94 232.86L119.94 231.46M119.94 232.86L121.27 232.42M119.94 232.86L120.76 233.99M119.94 232.86L119.11 233.99M119.94 232.86L118.6 232.42M123.19 232.86L123.19 231.46M123.19 232.86L124.52 232.42M123.19 232.86L124.01 233.99M123.19 232.86L122.36 233.99M123.19 232.86L121.85 232.42M126.44 232.86L126.44 231.46M126.44 232.86L127.77 232.42M126.44 232.86L127.26 233.99M126.44 232.86L125.61 233.99M126.44 232.86L125.1 232.42" stroke="#5B9BD5" stroke-width="0.55" fill="none" stroke-linecap="round" opacity="0.8"/>
<path d="M132.69 234.83L132.69 233.43M132.69 234.83L134.02 234.4M132.69 234.83L133.51 235.96M132.69 234.83L131.87 235.96M132.69 234.83L131.36 234.4M135.94 234.83L135.94 233.43M135.94 234.83L137.27 234.4M135.94 234.83L136.76 235.96M135.94 234.83L135.12 235.96M135.94 234.83L134.61 234.4M139.19 234.83L139.19 233.43M139.19 234.83L140.52 234.4M139.19 234.83L140.01 235.96M139.19 234.83L138.37 235.96M139.19 234.83L137.86 234.4" stroke="#5B9BD5" stroke-width="0.55" fill="none" stroke-linecap="round" opacity="0.8"/>
<path d="M145.44 230.93L145.44 229.53M145.44 230.93L146.78 230.5M145.44 230.93L146.27 232.06M145.44 230.93L144.62 232.06M145.44 230.93L144.11 230.5M148.69 230.93L148.69 229.53M148.69 230.93L150.03 230.5M148.69 230.93L149.52 232.06M148.69 230.93L147.87 232.06M148.69 230.93L147.36 230.5M151.94 230.93L151.94 229.53M151.94 230.93L153.28 230.5M151.94 230.93L152.77 232.06M151.94 230.93L151.12 232.06M151.94 230.93L150.61 230.5" stroke="#5B9BD5" stroke-width="0.55" fill="none" stroke-linecap="round" opacity="0.8"/>
<path d="M158.2 230.15L158.2 228.75M158.2 230.15L159.53 229.72M158.2 230.15L159.02 231.28M158.2 230.15L157.38 231.28M158.2 230.15L156.87 229.72M161.45 230.15L161.45 228.75M161.45 230.15L162.78 229.72M161.45 230.15L162.27 231.28M161.45 230.15L160.63 231.28M161.45 230.15L160.12 229.72M164.7 230.15L164.7 228.75M164.7 230.15L166.03 229.72M164.7 230.15L165.52 231.28M164.7 230.15L163.88 231.28M164.7 230.15L163.37 229.72" stroke="#5B9BD5" stroke-width="0.55" fill="none" stroke-linecap="round" opacity="0.8"/>
<path d="M170.96 234.14L170.96 232.74M170.96 234.14L172.29 233.71M170.96 234.14L171.78 235.28M170.96 234.14L170.13 235.28M170.96 234.14L169.62 233.71M174.21 234.14L174.21 232.74M174.21 234.14L175.54 233.71M174.21 234.14L175.03 235.28M174.21 234.14L173.38 235.28M174.21 234.14L172.87 233.71M177.46 234.14L177.46 232.74M177.46 234.14L178.79 233.71M177.46 234.14L178.28 235.28M177.46 234.14L176.63 235.28M177.46 234.14L176.12 233.71" stroke="#5B9BD5" stroke-width="0.55" fill="none" stroke-linecap="round" opacity="0.8"/>
<path d="M183.71 209.12L183.71 207.72M183.71 209.12L185.04 208.69M183.71 209.12L184.53 210.25M183.71 209.12L182.89 210.25M183.71 209.12L182.38 208.69M186.96 209.12L186.96 207.72M186.96 209.12L188.29 208.69M186.96 209.12L187.78 210.25M186.96 209.12L186.14 210.25M186.96 209.12L185.63 208.69M190.21 209.12L190.21 207.72M190.21 209.12L191.54 208.69M190.21 209.12L191.03 210.25M190.21 209.12L189.39 210.25M190.21 209.12L188.88 208.69" stroke="#5B9BD5" stroke-width="0.55" fill="none" stroke-linecap="round" opacity="0.8"/>
<path d="M196.47 211.96L196.47 210.56M196.47 211.96L197.8 211.53M196.47 211.96L197.29 213.1M196.47 211.96L195.64 213.1M196.47 211.96L195.13 211.53M199.72 211.96L199.72 210.56M199.72 211.96L201.05 211.53M199.72 211.96L200.54 213.1M199.72 211.96L198.89 213.1M199.72 211.96L198.38 211.53M202.97 211.96L202.97 210.56M202.97 211.96L204.3 211.53M202.97 211.96L203.79 213.1M202.97 211.96L202.14 213.1M202.97 211.96L201.63 211.53" stroke="#5B9BD5" stroke-width="0.55" fill="none" stroke-linecap="round" opacity="0.8"/>
<path d="M209.22 204.3L209.22 202.9M209.22 204.3L210.55 203.86M209.22 204.3L210.04 205.43M209.22 204.3L208.4 205.43M209.22 204.3L207.89 203.86M212.47 204.3L212.47 202.9M212.47 204.3L213.8 203.86M212.47 204.3L213.29 205.43M212.47 204.3L211.65 205.43M212.47 204.3L211.14 203.86M215.72 204.3L215.72 202.9M215.72 204.3L217.05 203.86M215.72 204.3L216.54 205.43M215.72 204.3L214.9 205.43M215.72 204.3L214.39 203.86" stroke="#5B9BD5" stroke-width="0.55" fill="none" stroke-linecap="round" opacity="0.8"/>
<path d="M199.72 265.46L199.72 264.06M199.72 265.46L201.05 265.03M199.72 265.46L200.54 266.59M199.72 265.46L198.89 266.59M199.72 265.46L198.38 265.03" stroke="#70AD47" stroke-width="0.55" fill="none" stroke-linecap="round" opacity="0.8"/>
<path d="M84.92 325.47L84.92 324.07M84.92 325.47L86.25 325.04M84.92 325.47L85.74 326.6M84.92 325.47L84.1 326.6M84.92 325.47L83.59 325.04" stroke="#FF0000" stroke-width="0.55" fill="none" stroke-linecap="round" opacity="0.8"/>
<path d="M135.94 325.61L135.94 324.21M135.94 325.61L137.27 325.18M135.94 325.61L136.76 326.74M135.94 325.61L135.12 326.74M135.94 325.61L134.61 325.18" stroke="#FF0000" stroke-width="0.55" fill="none" stroke-linecap="round" opacity="0.8"/>
<path d="M174.21 330.29L174.21 328.89M174.21 330.29L175.54 329.86M174.21 330.29L175.03 331.42M174.21 330.29L173.38 331.42M174.21 330.29L172.87 329.86" stroke="#FF0000" stroke-width="0.55" fill="none" stroke-linecap="round" opacity="0.8"/>
<path d="M185.34 334.29L185.34 332.89M185.34 334.29L186.67 333.85M185.34 334.29L186.16 335.42M185.34 334.29L184.51 335.42M185.34 334.29L184 333.85M188.59 334.29L188.59 332.89M188.59 334.29L189.92 333.85M188.59 334.29L189.41 335.42M188.59 334.29L187.76 335.42M188.59 334.29L187.25 333.85" stroke="#FF0000" stroke-width="0.55" fill="none" stroke-linecap="round" opacity="0.8"/>
<path d="M205.62 335.27L205.62 333.87M205.62 335.27L206.95 334.84M205.62 335.27L206.44 336.41M205.62 335.27L204.8 336.41M205.62 335.27L204.29 334.84M208.87 335.27L208.87 333.87M208.87 335.27L210.2 334.84M208.87 335.27L209.69 336.41M208.87 335.27L208.05 336.41M208.87 335.27L207.54 334.84M212.12 335.27L212.12 333.87M212.12 335.27L213.45 334.84M212.12 335.27L212.94 336.41M212.12 335.27L211.3 336.41M212.12 335.27L210.79 334.84" stroke="#FF0000" stroke-width="0.55" fill="none" stroke-linecap="round" opacity="0.8"/>
<text x="233" y="195.6" font-size="11.2" font-weight="bold" fill="#000">E</text>
<path d="M261 201.3V337.95H454" stroke="#303030" stroke-width="1.3" fill="none"/>
<path d="M258.7 323.4H261" stroke="#303030" stroke-width="1.15"/>
<text transform="translate(253.3,325.85) scale(1,1.14)" font-size="7.0" fill="#333333" class="t" text-anchor="end">0</text>
<path d="M258.7 298.98H261" stroke="#303030" stroke-width="1.15"/>
<text transform="translate(253.3,301.43) scale(1,1.14)" font-size="7.0" fill="#333333" class="t" text-anchor="end">5</text>
<path d="M258.7 274.56H261" stroke="#303030" stroke-width="1.15"/>
<text transform="translate(253.3,277.01) scale(1,1.14)" font-size="7.0" fill="#333333" class="t" text-anchor="end">10</text>
<path d="M258.7 250.14H261" stroke="#303030" stroke-width="1.15"/>
<text transform="translate(253.3,252.59) scale(1,1.14)" font-size="7.0" fill="#333333" class="t" text-anchor="end">15</text>
<path d="M258.7 225.72H261" stroke="#303030" stroke-width="1.15"/>
<text transform="translate(253.3,228.17) scale(1,1.14)" font-size="7.0" fill="#333333" class="t" text-anchor="end">20</text>
<path d="M258.7 201.3H261" stroke="#303030" stroke-width="1.15"/>
<text transform="translate(253.3,203.75) scale(1,1.14)" font-size="7.0" fill="#333333" class="t" text-anchor="end">25</text>
<text transform="translate(267.4,348.8) scale(1,1.14)" font-size="7.0" fill="#333333" class="t" text-anchor="middle">0</text>
<text transform="translate(280.25,348.8) scale(1,1.14)" font-size="7.0" fill="#333333" class="t" text-anchor="middle">0.5</text>
<text transform="translate(293.11,348.8) scale(1,1.14)" font-size="7.0" fill="#333333" class="t" text-anchor="middle">1</text>
<text transform="translate(305.96,348.8) scale(1,1.14)" font-size="7.0" fill="#333333" class="t" text-anchor="middle">1.5</text>
<text transform="translate(318.82,348.8) scale(1,1.14)" font-size="7.0" fill="#333333" class="t" text-anchor="middle">2</text>
<text transform="translate(331.67,348.8) scale(1,1.14)" font-size="7.0" fill="#333333" class="t" text-anchor="middle">2.5</text>
<text transform="translate(344.53,348.8) scale(1,1.14)" font-size="7.0" fill="#333333" class="t" text-anchor="middle">3</text>
<text transform="translate(357.38,348.8) scale(1,1.14)" font-size="7.0" fill="#333333" class="t" text-anchor="middle">3.5</text>
<text transform="translate(370.24,348.8) scale(1,1.14)" font-size="7.0" fill="#333333" class="t" text-anchor="middle">4</text>
<text transform="translate(383.09,348.8) scale(1,1.14)" font-size="7.0" fill="#333333" class="t" text-anchor="middle">4.5</text>
<text transform="translate(395.95,348.8) scale(1,1.14)" font-size="7.0" fill="#333333" class="t" text-anchor="middle">5</text>
<text transform="translate(408.8,348.8) scale(1,1.14)" font-size="7.0" fill="#333333" class="t" text-anchor="middle">5.5</text>
<text transform="translate(421.66,348.8) scale(1,1.14)" font-size="7.0" fill="#333333" class="t" text-anchor="middle">6</text>
<text transform="translate(434.51,348.8) scale(1,1.14)" font-size="7.0" fill="#333333" class="t" text-anchor="middle">6.5</text>
<text transform="translate(447.37,348.8) scale(1,1.14)" font-size="7.0" fill="#333333" class="t" text-anchor="middle">7</text>
<text x="358.5" y="361.8" font-size="8.3" fill="#333333" class="t" text-anchor="middle">years</text>
<text transform="translate(241.3,273.85) rotate(-90)" font-size="8.45" fill="#333333" class="t" text-anchor="middle">D-12 Total score</text>
<path d="M267.5 301.61V320.06M265.3 301.61H269.7M265.3 320.06H269.7M280.5 303.01V321.47M278.3 303.01H282.7M278.3 321.47H282.7M293.5 306.17V324.63M291.3 306.17H295.7M291.3 324.63H295.7M305.5 312.15V329.63M303.3 312.15H307.7M303.3 329.63H307.7M318.5 308.84V325.36M316.3 308.84H320.7M316.3 325.36H320.7M331.5 310.01V329.05M329.3 310.01H333.7M329.3 329.05H333.7M344.5 313.51V330.99M342.3 313.51H346.7M342.3 330.99H346.7M357.5 313.36V331.82M355.3 313.36H359.7M355.3 331.82H359.7M370.5 312.49V330.94M368.3 312.49H372.7M368.3 330.94H372.7M383.5 308.84V328.27M381.3 308.84H385.7M381.3 328.27H385.7M396.5 311.51V331.91M394.3 311.51H398.7M394.3 331.91H398.7M408.5 310.93V334.25M406.3 310.93H410.7M406.3 334.25H410.7M421.5 312.73V334.1M419.3 312.73H423.7M419.3 334.1H423.7M434.5 308.11V334.34M432.3 308.11H436.7M432.3 334.34H436.7M447.5 309.09V334.34M445.3 309.09H449.7M445.3 334.34H449.7" stroke="#FF5C5C" stroke-width="1" fill="none"/>
<path d="M267.5 314.57V327.2M265.3 314.57H269.7M265.3 327.2H269.7M280.5 314.57V327.2M278.3 314.57H282.7M278.3 327.2H282.7M293.5 314.67V327.3M291.3 314.67H295.7M291.3 327.3H295.7M305.5 315.4V328.03M303.3 315.4H307.7M303.3 328.03H307.7M318.5 314.57V327.2M316.3 314.57H320.7M316.3 327.2H320.7M331.5 313.99V326.62M329.3 313.99H333.7M329.3 326.62H333.7M344.5 314.57V327.2M342.3 314.57H346.7M342.3 327.2H346.7M357.5 314.38V327.01M355.3 314.38H359.7M355.3 327.01H359.7M370.5 312.24V326.43M368.3 312.24H372.7M368.3 326.43H372.7M383.5 313.02V326.62M381.3 313.02H385.7M381.3 326.62H385.7M396.5 312.53V326.13M394.3 312.53H398.7M394.3 326.13H398.7M408.5 311.76V325.36M406.3 311.76H410.7M406.3 325.36H410.7M421.5 313.89V327.49M419.3 313.89H423.7M419.3 327.49H423.7M434.5 310.3V327.79M432.3 310.3H436.7M432.3 327.79H436.7M447.5 310.3V325.55M445.3 310.3H449.7M445.3 325.55H449.7" stroke="#ADD395" stroke-width="1" fill="none"/>
<path d="M267.5 293.06V310.54M265.3 293.06H269.7M265.3 310.54H269.7M280.5 292.33V311.27M278.3 292.33H282.7M278.3 311.27H282.7M293.5 264.55V282.61M291.3 264.55H295.7M291.3 282.61H295.7M305.5 286.26V303.74M303.3 286.26H307.7M303.3 303.74H307.7M318.5 259.93V278.97M316.3 259.93H320.7M316.3 278.97H320.7M331.5 258.52V276.01M329.3 258.52H333.7M329.3 276.01H333.7M344.5 243.27V261.34M342.3 243.27H346.7M342.3 261.34H346.7M357.5 253.67V272.8M355.3 253.67H359.7M355.3 272.8H359.7M370.5 255.41V274.26M368.3 255.41H372.7M368.3 274.26H372.7M383.5 238.8V258.23M381.3 238.8H385.7M381.3 258.23H385.7M396.5 230.64V253.96M394.3 230.64H398.7M394.3 253.96H398.7M408.5 243.61V265.47M406.3 243.61H410.7M406.3 265.47H410.7M421.5 225.49V249.78M419.3 225.49H423.7M419.3 249.78H423.7M434.5 228.75V252.06M432.3 228.75H436.7M432.3 252.06H436.7M447.5 231.47V255.75M445.3 231.47H449.7M445.3 255.75H449.7" stroke="#9EC2E6" stroke-width="1" fill="none"/>
<polyline points="266.8,310.83 279.68,312.24 292.56,315.4 305.44,320.89 318.32,317.1 331.2,319.53 344.08,322.25 356.96,322.59 369.84,321.71 382.72,318.56 395.6,321.71 408.48,322.59 421.36,323.41 434.24,321.23 447.12,321.71" stroke="#FF0000" stroke-width="2.0" fill="none" stroke-linejoin="round"/>
<g fill="#FF0000"><circle cx="266.8" cy="310.83" r="2.6"/><circle cx="279.68" cy="312.24" r="2.6"/><circle cx="292.56" cy="315.4" r="2.6"/><circle cx="305.44" cy="320.89" r="2.6"/><circle cx="318.32" cy="317.1" r="2.6"/><circle cx="331.2" cy="319.53" r="2.6"/><circle cx="344.08" cy="322.25" r="2.6"/><circle cx="356.96" cy="322.59" r="2.6"/><circle cx="369.84" cy="321.71" r="2.6"/><circle cx="382.72" cy="318.56" r="2.6"/><circle cx="395.6" cy="321.71" r="2.6"/><circle cx="408.48" cy="322.59" r="2.6"/><circle cx="421.36" cy="323.41" r="2.6"/><circle cx="434.24" cy="321.23" r="2.6"/><circle cx="447.12" cy="321.71" r="2.6"/></g>
<polyline points="266.8,320.89 279.68,320.89 292.56,320.99 305.44,321.71 318.32,320.89 331.2,320.31 344.08,320.89 356.96,320.69 369.84,319.33 382.72,319.82 395.6,319.33 408.48,318.56 421.36,320.69 434.24,319.04 447.12,317.93" stroke="#70AD47" stroke-width="2.0" fill="none" stroke-linejoin="round"/>
<g fill="#70AD47"><circle cx="266.8" cy="320.89" r="2.6"/><circle cx="279.68" cy="320.89" r="2.6"/><circle cx="292.56" cy="320.99" r="2.6"/><circle cx="305.44" cy="321.71" r="2.6"/><circle cx="318.32" cy="320.89" r="2.6"/><circle cx="331.2" cy="320.31" r="2.6"/><circle cx="344.08" cy="320.89" r="2.6"/><circle cx="356.96" cy="320.69" r="2.6"/><circle cx="369.84" cy="319.33" r="2.6"/><circle cx="382.72" cy="319.82" r="2.6"/><circle cx="395.6" cy="319.33" r="2.6"/><circle cx="408.48" cy="318.56" r="2.6"/><circle cx="421.36" cy="320.69" r="2.6"/><circle cx="434.24" cy="319.04" r="2.6"/><circle cx="447.12" cy="317.93" r="2.6"/></g>
<polyline points="266.8,301.8 279.68,301.8 292.56,273.58 305.44,295 318.32,269.45 331.2,267.27 344.08,252.31 356.96,263.23 369.84,264.84 382.72,248.52 395.6,242.3 408.48,254.54 421.36,237.64 434.24,240.41 447.12,243.61" stroke="#5B9BD5" stroke-width="2.0" fill="none" stroke-linejoin="round"/>
<g fill="#5B9BD5"><circle cx="266.8" cy="301.8" r="2.6"/><circle cx="279.68" cy="301.8" r="2.6"/><circle cx="292.56" cy="273.58" r="2.6"/><circle cx="305.44" cy="295" r="2.6"/><circle cx="318.32" cy="269.45" r="2.6"/><circle cx="331.2" cy="267.27" r="2.6"/><circle cx="344.08" cy="252.31" r="2.6"/><circle cx="356.96" cy="263.23" r="2.6"/><circle cx="369.84" cy="264.84" r="2.6"/><circle cx="382.72" cy="248.52" r="2.6"/><circle cx="395.6" cy="242.3" r="2.6"/><circle cx="408.48" cy="254.54" r="2.6"/><circle cx="421.36" cy="237.64" r="2.6"/><circle cx="434.24" cy="240.41" r="2.6"/><circle cx="447.12" cy="243.61" r="2.6"/></g>
<path d="M289.31 260.05L289.31 258.65M289.31 260.05L290.64 259.61M289.31 260.05L290.13 261.18M289.31 260.05L288.49 261.18M289.31 260.05L287.98 259.61M292.56 260.05L292.56 258.65M292.56 260.05L293.89 259.61M292.56 260.05L293.38 261.18M292.56 260.05L291.74 261.18M292.56 260.05L291.23 259.61M295.81 260.05L295.81 258.65M295.81 260.05L297.14 259.61M295.81 260.05L296.63 261.18M295.81 260.05L294.99 261.18M295.81 260.05L294.48 259.61" stroke="#5B9BD5" stroke-width="0.55" fill="none" stroke-linecap="round" opacity="0.8"/>
<path d="M315.07 255.43L315.07 254.03M315.07 255.43L316.4 255M315.07 255.43L315.89 256.56M315.07 255.43L314.25 256.56M315.07 255.43L313.74 255M318.32 255.43L318.32 254.03M318.32 255.43L319.65 255M318.32 255.43L319.14 256.56M318.32 255.43L317.5 256.56M318.32 255.43L316.99 255M321.57 255.43L321.57 254.03M321.57 255.43L322.9 255M321.57 255.43L322.39 256.56M321.57 255.43L320.75 256.56M321.57 255.43L320.24 255" stroke="#5B9BD5" stroke-width="0.55" fill="none" stroke-linecap="round" opacity="0.8"/>
<path d="M327.95 254.02L327.95 252.62M327.95 254.02L329.28 253.59M327.95 254.02L328.77 255.16M327.95 254.02L327.13 255.16M327.95 254.02L326.62 253.59M331.2 254.02L331.2 252.62M331.2 254.02L332.53 253.59M331.2 254.02L332.02 255.16M331.2 254.02L330.38 255.16M331.2 254.02L329.87 253.59M334.45 254.02L334.45 252.62M334.45 254.02L335.78 253.59M334.45 254.02L335.27 255.16M334.45 254.02L333.63 255.16M334.45 254.02L333.12 253.59" stroke="#5B9BD5" stroke-width="0.55" fill="none" stroke-linecap="round" opacity="0.8"/>
<path d="M340.83 238.77L340.83 237.37M340.83 238.77L342.16 238.34M340.83 238.77L341.65 239.9M340.83 238.77L340.01 239.9M340.83 238.77L339.5 238.34M344.08 238.77L344.08 237.37M344.08 238.77L345.41 238.34M344.08 238.77L344.9 239.9M344.08 238.77L343.26 239.9M344.08 238.77L342.75 238.34M347.33 238.77L347.33 237.37M347.33 238.77L348.66 238.34M347.33 238.77L348.15 239.9M347.33 238.77L346.51 239.9M347.33 238.77L346 238.34" stroke="#5B9BD5" stroke-width="0.55" fill="none" stroke-linecap="round" opacity="0.8"/>
<path d="M353.71 249.17L353.71 247.77M353.71 249.17L355.04 248.73M353.71 249.17L354.53 250.3M353.71 249.17L352.89 250.3M353.71 249.17L352.38 248.73M356.96 249.17L356.96 247.77M356.96 249.17L358.29 248.73M356.96 249.17L357.78 250.3M356.96 249.17L356.14 250.3M356.96 249.17L355.63 248.73M360.21 249.17L360.21 247.77M360.21 249.17L361.54 248.73M360.21 249.17L361.03 250.3M360.21 249.17L359.39 250.3M360.21 249.17L358.88 248.73" stroke="#5B9BD5" stroke-width="0.55" fill="none" stroke-linecap="round" opacity="0.8"/>
<path d="M366.59 250.91L366.59 249.51M366.59 250.91L367.92 250.48M366.59 250.91L367.41 252.05M366.59 250.91L365.77 252.05M366.59 250.91L365.26 250.48M369.84 250.91L369.84 249.51M369.84 250.91L371.17 250.48M369.84 250.91L370.66 252.05M369.84 250.91L369.02 252.05M369.84 250.91L368.51 250.48M373.09 250.91L373.09 249.51M373.09 250.91L374.42 250.48M373.09 250.91L373.91 252.05M373.09 250.91L372.27 252.05M373.09 250.91L371.76 250.48" stroke="#5B9BD5" stroke-width="0.55" fill="none" stroke-linecap="round" opacity="0.8"/>
<path d="M379.47 234.3L379.47 232.9M379.47 234.3L380.8 233.87M379.47 234.3L380.29 235.44M379.47 234.3L378.65 235.44M379.47 234.3L378.14 233.87M382.72 234.3L382.72 232.9M382.72 234.3L384.05 233.87M382.72 234.3L383.54 235.44M382.72 234.3L381.9 235.44M382.72 234.3L381.39 233.87M385.97 234.3L385.97 232.9M385.97 234.3L387.3 233.87M385.97 234.3L386.79 235.44M385.97 234.3L385.15 235.44M385.97 234.3L384.64 233.87" stroke="#5B9BD5" stroke-width="0.55" fill="none" stroke-linecap="round" opacity="0.8"/>
<path d="M392.35 226.14L392.35 224.74M392.35 226.14L393.68 225.71M392.35 226.14L393.17 227.28M392.35 226.14L391.53 227.28M392.35 226.14L391.02 225.71M395.6 226.14L395.6 224.74M395.6 226.14L396.93 225.71M395.6 226.14L396.42 227.28M395.6 226.14L394.78 227.28M395.6 226.14L394.27 225.71M398.85 226.14L398.85 224.74M398.85 226.14L400.18 225.71M398.85 226.14L399.67 227.28M398.85 226.14L398.03 227.28M398.85 226.14L397.52 225.71" stroke="#5B9BD5" stroke-width="0.55" fill="none" stroke-linecap="round" opacity="0.8"/>
<path d="M405.23 239.11L405.23 237.71M405.23 239.11L406.56 238.68M405.23 239.11L406.05 240.24M405.23 239.11L404.41 240.24M405.23 239.11L403.9 238.68M408.48 239.11L408.48 237.71M408.48 239.11L409.81 238.68M408.48 239.11L409.3 240.24M408.48 239.11L407.66 240.24M408.48 239.11L407.15 238.68M411.73 239.11L411.73 237.71M411.73 239.11L413.06 238.68M411.73 239.11L412.55 240.24M411.73 239.11L410.91 240.24M411.73 239.11L410.4 238.68" stroke="#5B9BD5" stroke-width="0.55" fill="none" stroke-linecap="round" opacity="0.8"/>
<path d="M418.11 220.99L418.11 219.59M418.11 220.99L419.44 220.56M418.11 220.99L418.93 222.13M418.11 220.99L417.29 222.13M418.11 220.99L416.78 220.56M421.36 220.99L421.36 219.59M421.36 220.99L422.69 220.56M421.36 220.99L422.18 222.13M421.36 220.99L420.54 222.13M421.36 220.99L420.03 220.56M424.61 220.99L424.61 219.59M424.61 220.99L425.94 220.56M424.61 220.99L425.43 222.13M424.61 220.99L423.79 222.13M424.61 220.99L423.28 220.56" stroke="#5B9BD5" stroke-width="0.55" fill="none" stroke-linecap="round" opacity="0.8"/>
<path d="M430.99 224.25L430.99 222.85M430.99 224.25L432.32 223.82M430.99 224.25L431.81 225.38M430.99 224.25L430.17 225.38M430.99 224.25L429.66 223.82M434.24 224.25L434.24 222.85M434.24 224.25L435.57 223.82M434.24 224.25L435.06 225.38M434.24 224.25L433.42 225.38M434.24 224.25L432.91 223.82M437.49 224.25L437.49 222.85M437.49 224.25L438.82 223.82M437.49 224.25L438.31 225.38M437.49 224.25L436.67 225.38M437.49 224.25L436.16 223.82" stroke="#5B9BD5" stroke-width="0.55" fill="none" stroke-linecap="round" opacity="0.8"/>
<path d="M443.87 226.97L443.87 225.57M443.87 226.97L445.2 226.54M443.87 226.97L444.69 228.1M443.87 226.97L443.05 228.1M443.87 226.97L442.54 226.54M447.12 226.97L447.12 225.57M447.12 226.97L448.45 226.54M447.12 226.97L447.94 228.1M447.12 226.97L446.3 228.1M447.12 226.97L445.79 226.54M450.37 226.97L450.37 225.57M450.37 226.97L451.7 226.54M450.37 226.97L451.19 228.1M450.37 226.97L449.55 228.1M450.37 226.97L449.04 226.54" stroke="#5B9BD5" stroke-width="0.55" fill="none" stroke-linecap="round" opacity="0.8"/>
</svg>
</body></html>
